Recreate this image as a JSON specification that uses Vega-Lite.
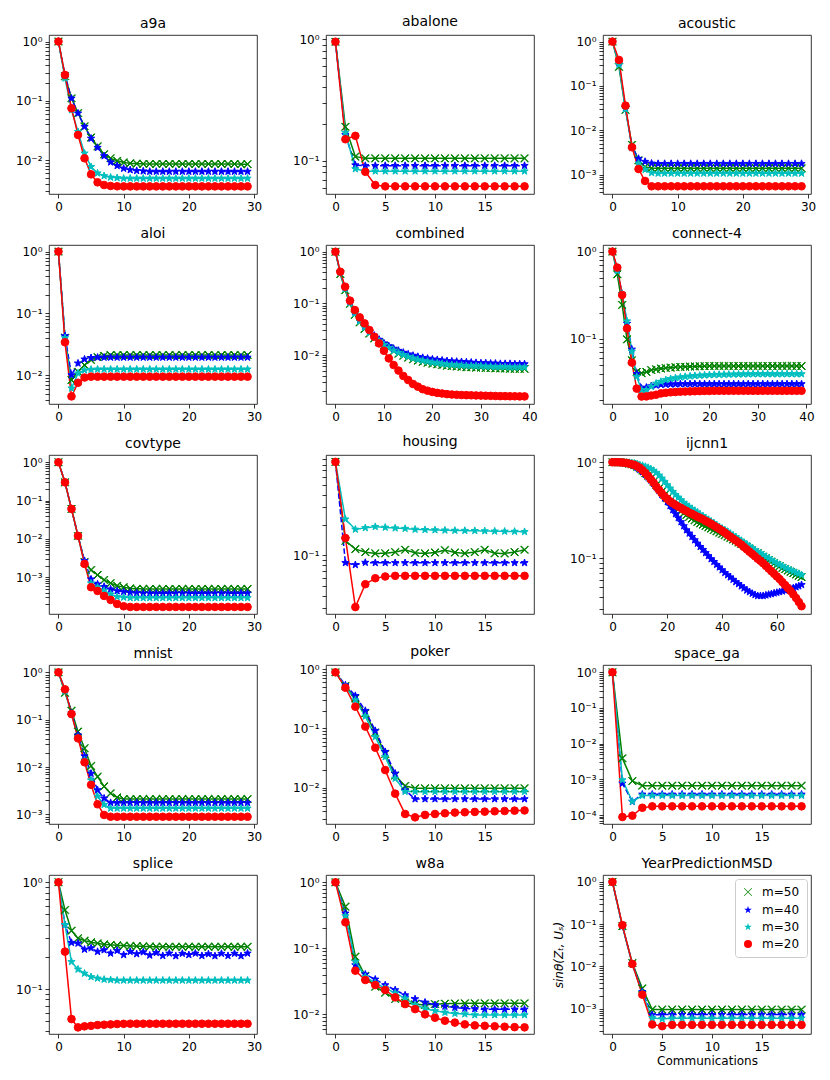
{
"$schema":"https://vega.github.io/schema/vega-lite/v6.json",
"background":"white",
"padding":{"left":15,"top":14,"right":5,"bottom":5},
"bounds":"flush",
"columns":3,
"spacing":{"row":51,"column":69},
"config":{
"font":"DejaVu Sans",
"view":{"stroke":"black","strokeWidth":0.8,"continuousWidth":208,"continuousHeight":159},
"axis":{"domain":false,"grid":false,"tickColor":"black","tickWidth":0.8,"tickSize":4,"labelColor":"black","labelFontSize":12,"labelPadding":3,"labelFont":"DejaVu Sans","titleFont":"DejaVu Sans","titleFontWeight":"normal","titleColor":"black","titleFontSize":12},
"axisY":{"labelOverlap":false,"labelExpr":"abs(log(datum.value)/LN10 - round(log(datum.value)/LN10)) > 0.01 ? '' : '10' + replace(replace(replace(replace(replace(replace('' + round(log(datum.value) / LN10), '-', '⁻'), '0', '⁰'), '1', '¹'), '2', '²'), '3', '³'), '4', '⁴')"},
"title":{"fontSize":14,"fontWeight":"normal","font":"DejaVu Sans","offset":4,"color":"black"},
"line":{"strokeWidth":1.5},
"point":{"filled":true,"size":58,"opacity":1,"strokeWidth":1},
"range":{"category":["#008000","#0000ff","#00bfbf","#ff0000"],"symbol":["M1.011,-0.898L0.113,0L1.011,0.898L0.898,1.011L0,0.113L-0.898,1.011L-1.011,0.898L-0.113,0L-1.011,-0.898L-0.898,-1.011L0,-0.113L0.898,-1.011Z","M0,-1L0.235,-0.324L0.951,-0.309L0.38,0.124L0.588,0.809L0,0.4L-0.588,0.809L-0.38,0.124L-0.951,-0.309L-0.235,-0.324Z","M0,-1L0.235,-0.324L0.951,-0.309L0.38,0.124L0.588,0.809L0,0.4L-0.588,0.809L-0.38,0.124L-0.951,-0.309L-0.235,-0.324Z","circle"]}
},
"resolve":{"scale":{"stroke":"independent","fill":"independent","shape":"independent","strokeDash":"independent"},"legend":{"stroke":"independent","fill":"independent","shape":"independent","strokeDash":"independent"}},
"datasets":{
"a9a":[
{"s":50,"x":0,"y":1},{"s":50,"x":1,"y":0.26},{"s":50,"x":2,"y":0.11},{"s":50,"x":3,"y":0.062},{"s":50,"x":4,"y":0.037},{"s":50,"x":5,"y":0.024},{"s":50,"x":6,"y":0.017},{"s":50,"x":7,"y":0.0125},{"s":50,"x":8,"y":0.0107},{"s":50,"x":9,"y":0.0097},{"s":50,"x":10,"y":0.0091},{"s":50,"x":11,"y":0.0088},{"s":50,"x":12,"y":0.0087},{"s":50,"x":13,"y":0.0086},{"s":50,"x":14,"y":0.0086},{"s":50,"x":15,"y":0.0086},{"s":50,"x":16,"y":0.0086},{"s":50,"x":17,"y":0.0086},{"s":50,"x":18,"y":0.0086},{"s":50,"x":19,"y":0.0086},{"s":50,"x":20,"y":0.0086},{"s":50,"x":21,"y":0.0086},{"s":50,"x":22,"y":0.0086},{"s":50,"x":23,"y":0.0086},{"s":50,"x":24,"y":0.0086},{"s":50,"x":25,"y":0.0086},{"s":50,"x":26,"y":0.0086},{"s":50,"x":27,"y":0.0086},{"s":50,"x":28,"y":0.0085},{"s":50,"x":29,"y":0.0085},
{"s":40,"x":0,"y":1},{"s":40,"x":1,"y":0.27},{"s":40,"x":2,"y":0.11},{"s":40,"x":3,"y":0.0615},{"s":40,"x":4,"y":0.0366},{"s":40,"x":5,"y":0.0232},{"s":40,"x":6,"y":0.0162},{"s":40,"x":7,"y":0.0117},{"s":40,"x":8,"y":0.0092},{"s":40,"x":9,"y":0.008},{"s":40,"x":10,"y":0.0072},{"s":40,"x":11,"y":0.0068},{"s":40,"x":12,"y":0.0066},{"s":40,"x":13,"y":0.0065},{"s":40,"x":14,"y":0.0064},{"s":40,"x":15,"y":0.0064},{"s":40,"x":16,"y":0.0064},{"s":40,"x":17,"y":0.0064},{"s":40,"x":18,"y":0.0064},{"s":40,"x":19,"y":0.0064},{"s":40,"x":20,"y":0.0064},{"s":40,"x":21,"y":0.0064},{"s":40,"x":22,"y":0.0064},{"s":40,"x":23,"y":0.0064},{"s":40,"x":24,"y":0.0064},{"s":40,"x":25,"y":0.0064},{"s":40,"x":26,"y":0.0064},{"s":40,"x":27,"y":0.0064},{"s":40,"x":28,"y":0.0064},{"s":40,"x":29,"y":0.0064},
{"s":30,"x":0,"y":1},{"s":30,"x":1,"y":0.24},{"s":30,"x":2,"y":0.07},{"s":30,"x":3,"y":0.03},{"s":30,"x":4,"y":0.013},{"s":30,"x":5,"y":0.0077},{"s":30,"x":6,"y":0.006},{"s":30,"x":7,"y":0.0054},{"s":30,"x":8,"y":0.0051},{"s":30,"x":9,"y":0.005},{"s":30,"x":10,"y":0.0049},{"s":30,"x":11,"y":0.0049},{"s":30,"x":12,"y":0.0049},{"s":30,"x":13,"y":0.0049},{"s":30,"x":14,"y":0.0049},{"s":30,"x":15,"y":0.0049},{"s":30,"x":16,"y":0.0049},{"s":30,"x":17,"y":0.0049},{"s":30,"x":18,"y":0.0049},{"s":30,"x":19,"y":0.0049},{"s":30,"x":20,"y":0.0049},{"s":30,"x":21,"y":0.0049},{"s":30,"x":22,"y":0.0049},{"s":30,"x":23,"y":0.0049},{"s":30,"x":24,"y":0.0049},{"s":30,"x":25,"y":0.0049},{"s":30,"x":26,"y":0.0049},{"s":30,"x":27,"y":0.0049},{"s":30,"x":28,"y":0.0049},{"s":30,"x":29,"y":0.0049},
{"s":20,"x":0,"y":1},{"s":20,"x":1,"y":0.273},{"s":20,"x":2,"y":0.0747},{"s":20,"x":3,"y":0.0265},{"s":20,"x":4,"y":0.0107},{"s":20,"x":5,"y":0.00573},{"s":20,"x":6,"y":0.0042},{"s":20,"x":7,"y":0.00378},{"s":20,"x":8,"y":0.00365},{"s":20,"x":9,"y":0.0036},{"s":20,"x":10,"y":0.00359},{"s":20,"x":11,"y":0.00359},{"s":20,"x":12,"y":0.00359},{"s":20,"x":13,"y":0.00359},{"s":20,"x":14,"y":0.00359},{"s":20,"x":15,"y":0.00359},{"s":20,"x":16,"y":0.00359},{"s":20,"x":17,"y":0.00359},{"s":20,"x":18,"y":0.00359},{"s":20,"x":19,"y":0.00359},{"s":20,"x":20,"y":0.00359},{"s":20,"x":21,"y":0.00359},{"s":20,"x":22,"y":0.00359},{"s":20,"x":23,"y":0.00359},{"s":20,"x":24,"y":0.00359},{"s":20,"x":25,"y":0.00359},{"s":20,"x":26,"y":0.00359},{"s":20,"x":27,"y":0.00359},{"s":20,"x":28,"y":0.00359},{"s":20,"x":29,"y":0.00359}
],
"abalone":[
{"s":50,"x":0,"y":0.95},{"s":50,"x":1,"y":0.19},{"s":50,"x":2,"y":0.108},{"s":50,"x":3,"y":0.1045},{"s":50,"x":4,"y":0.1045},{"s":50,"x":5,"y":0.1045},{"s":50,"x":6,"y":0.1045},{"s":50,"x":7,"y":0.1045},{"s":50,"x":8,"y":0.1045},{"s":50,"x":9,"y":0.1045},{"s":50,"x":10,"y":0.1045},{"s":50,"x":11,"y":0.1045},{"s":50,"x":12,"y":0.1045},{"s":50,"x":13,"y":0.1045},{"s":50,"x":14,"y":0.1045},{"s":50,"x":15,"y":0.1045},{"s":50,"x":16,"y":0.1045},{"s":50,"x":17,"y":0.1045},{"s":50,"x":18,"y":0.1045},{"s":50,"x":19,"y":0.1045},
{"s":40,"x":0,"y":0.95},{"s":40,"x":1,"y":0.163},{"s":40,"x":2,"y":0.092},{"s":40,"x":3,"y":0.091},{"s":40,"x":4,"y":0.091},{"s":40,"x":5,"y":0.091},{"s":40,"x":6,"y":0.091},{"s":40,"x":7,"y":0.091},{"s":40,"x":8,"y":0.091},{"s":40,"x":9,"y":0.091},{"s":40,"x":10,"y":0.091},{"s":40,"x":11,"y":0.091},{"s":40,"x":12,"y":0.091},{"s":40,"x":13,"y":0.091},{"s":40,"x":14,"y":0.091},{"s":40,"x":15,"y":0.091},{"s":40,"x":16,"y":0.091},{"s":40,"x":17,"y":0.091},{"s":40,"x":18,"y":0.091},{"s":40,"x":19,"y":0.091},
{"s":30,"x":0,"y":0.95},{"s":30,"x":1,"y":0.17},{"s":30,"x":2,"y":0.0855},{"s":30,"x":3,"y":0.082},{"s":30,"x":4,"y":0.082},{"s":30,"x":5,"y":0.082},{"s":30,"x":6,"y":0.082},{"s":30,"x":7,"y":0.082},{"s":30,"x":8,"y":0.082},{"s":30,"x":9,"y":0.082},{"s":30,"x":10,"y":0.082},{"s":30,"x":11,"y":0.082},{"s":30,"x":12,"y":0.082},{"s":30,"x":13,"y":0.082},{"s":30,"x":14,"y":0.082},{"s":30,"x":15,"y":0.082},{"s":30,"x":16,"y":0.082},{"s":30,"x":17,"y":0.082},{"s":30,"x":18,"y":0.082},{"s":30,"x":19,"y":0.082},
{"s":20,"x":0,"y":0.95},{"s":20,"x":1,"y":0.15},{"s":20,"x":2,"y":0.16},{"s":20,"x":3,"y":0.081},{"s":20,"x":4,"y":0.063},{"s":20,"x":5,"y":0.0615},{"s":20,"x":6,"y":0.0615},{"s":20,"x":7,"y":0.0615},{"s":20,"x":8,"y":0.0615},{"s":20,"x":9,"y":0.0615},{"s":20,"x":10,"y":0.0615},{"s":20,"x":11,"y":0.0615},{"s":20,"x":12,"y":0.0615},{"s":20,"x":13,"y":0.0615},{"s":20,"x":14,"y":0.0615},{"s":20,"x":15,"y":0.0615},{"s":20,"x":16,"y":0.0615},{"s":20,"x":17,"y":0.0615},{"s":20,"x":18,"y":0.0615},{"s":20,"x":19,"y":0.0615}
],
"acoustic":[
{"s":50,"x":0,"y":1},{"s":50,"x":1,"y":0.27},{"s":50,"x":2,"y":0.029},{"s":50,"x":3,"y":0.0047},{"s":50,"x":4,"y":0.0021},{"s":50,"x":5,"y":0.0015},{"s":50,"x":6,"y":0.0014},{"s":50,"x":7,"y":0.00139},{"s":50,"x":8,"y":0.00139},{"s":50,"x":9,"y":0.00139},{"s":50,"x":10,"y":0.00139},{"s":50,"x":11,"y":0.00139},{"s":50,"x":12,"y":0.00139},{"s":50,"x":13,"y":0.00139},{"s":50,"x":14,"y":0.00139},{"s":50,"x":15,"y":0.00139},{"s":50,"x":16,"y":0.00139},{"s":50,"x":17,"y":0.00139},{"s":50,"x":18,"y":0.00139},{"s":50,"x":19,"y":0.00139},{"s":50,"x":20,"y":0.00139},{"s":50,"x":21,"y":0.00139},{"s":50,"x":22,"y":0.00139},{"s":50,"x":23,"y":0.00139},{"s":50,"x":24,"y":0.00139},{"s":50,"x":25,"y":0.00139},{"s":50,"x":26,"y":0.00139},{"s":50,"x":27,"y":0.00139},{"s":50,"x":28,"y":0.00139},{"s":50,"x":29,"y":0.00139},
{"s":40,"x":0,"y":1},{"s":40,"x":1,"y":0.33},{"s":40,"x":2,"y":0.032},{"s":40,"x":3,"y":0.0042},{"s":40,"x":4,"y":0.0023},{"s":40,"x":5,"y":0.00197},{"s":40,"x":6,"y":0.0018},{"s":40,"x":7,"y":0.00177},{"s":40,"x":8,"y":0.00177},{"s":40,"x":9,"y":0.00177},{"s":40,"x":10,"y":0.00177},{"s":40,"x":11,"y":0.00177},{"s":40,"x":12,"y":0.00177},{"s":40,"x":13,"y":0.00177},{"s":40,"x":14,"y":0.00177},{"s":40,"x":15,"y":0.00177},{"s":40,"x":16,"y":0.00177},{"s":40,"x":17,"y":0.00177},{"s":40,"x":18,"y":0.00177},{"s":40,"x":19,"y":0.00177},{"s":40,"x":20,"y":0.00177},{"s":40,"x":21,"y":0.00177},{"s":40,"x":22,"y":0.00177},{"s":40,"x":23,"y":0.00177},{"s":40,"x":24,"y":0.00177},{"s":40,"x":25,"y":0.00177},{"s":40,"x":26,"y":0.00177},{"s":40,"x":27,"y":0.00177},{"s":40,"x":28,"y":0.00177},{"s":40,"x":29,"y":0.00177},
{"s":30,"x":0,"y":1},{"s":30,"x":1,"y":0.3},{"s":30,"x":2,"y":0.03},{"s":30,"x":3,"y":0.004},{"s":30,"x":4,"y":0.0018},{"s":30,"x":5,"y":0.0013},{"s":30,"x":6,"y":0.0011},{"s":30,"x":7,"y":0.00107},{"s":30,"x":8,"y":0.00107},{"s":30,"x":9,"y":0.00107},{"s":30,"x":10,"y":0.00107},{"s":30,"x":11,"y":0.00107},{"s":30,"x":12,"y":0.00107},{"s":30,"x":13,"y":0.00107},{"s":30,"x":14,"y":0.00107},{"s":30,"x":15,"y":0.00107},{"s":30,"x":16,"y":0.00107},{"s":30,"x":17,"y":0.00107},{"s":30,"x":18,"y":0.00107},{"s":30,"x":19,"y":0.00107},{"s":30,"x":20,"y":0.00107},{"s":30,"x":21,"y":0.00107},{"s":30,"x":22,"y":0.00107},{"s":30,"x":23,"y":0.00107},{"s":30,"x":24,"y":0.00107},{"s":30,"x":25,"y":0.00107},{"s":30,"x":26,"y":0.00107},{"s":30,"x":27,"y":0.00107},{"s":30,"x":28,"y":0.00107},{"s":30,"x":29,"y":0.00107},
{"s":20,"x":0,"y":1},{"s":20,"x":1,"y":0.386},{"s":20,"x":2,"y":0.036},{"s":20,"x":3,"y":0.00414},{"s":20,"x":4,"y":0.00134},{"s":20,"x":5,"y":0.00072},{"s":20,"x":6,"y":0.000546},{"s":20,"x":7,"y":0.000546},{"s":20,"x":8,"y":0.000546},{"s":20,"x":9,"y":0.000546},{"s":20,"x":10,"y":0.000546},{"s":20,"x":11,"y":0.000546},{"s":20,"x":12,"y":0.000546},{"s":20,"x":13,"y":0.000546},{"s":20,"x":14,"y":0.000546},{"s":20,"x":15,"y":0.000546},{"s":20,"x":16,"y":0.000546},{"s":20,"x":17,"y":0.000546},{"s":20,"x":18,"y":0.000546},{"s":20,"x":19,"y":0.000546},{"s":20,"x":20,"y":0.000546},{"s":20,"x":21,"y":0.000546},{"s":20,"x":22,"y":0.000546},{"s":20,"x":23,"y":0.000546},{"s":20,"x":24,"y":0.000546},{"s":20,"x":25,"y":0.000546},{"s":20,"x":26,"y":0.000546},{"s":20,"x":27,"y":0.000546},{"s":20,"x":28,"y":0.000546},{"s":20,"x":29,"y":0.000546}
],
"aloi":[
{"s":50,"x":0,"y":1},{"s":50,"x":1,"y":0.04},{"s":50,"x":2,"y":0.0083},{"s":50,"x":3,"y":0.0113},{"s":50,"x":4,"y":0.0145},{"s":50,"x":5,"y":0.0175},{"s":50,"x":6,"y":0.0195},{"s":50,"x":7,"y":0.0205},{"s":50,"x":8,"y":0.0211},{"s":50,"x":9,"y":0.0211},{"s":50,"x":10,"y":0.0211},{"s":50,"x":11,"y":0.0211},{"s":50,"x":12,"y":0.0211},{"s":50,"x":13,"y":0.0211},{"s":50,"x":14,"y":0.0211},{"s":50,"x":15,"y":0.0211},{"s":50,"x":16,"y":0.0211},{"s":50,"x":17,"y":0.0211},{"s":50,"x":18,"y":0.0211},{"s":50,"x":19,"y":0.0211},{"s":50,"x":20,"y":0.0211},{"s":50,"x":21,"y":0.0211},{"s":50,"x":22,"y":0.0211},{"s":50,"x":23,"y":0.0211},{"s":50,"x":24,"y":0.0211},{"s":50,"x":25,"y":0.0211},{"s":50,"x":26,"y":0.0211},{"s":50,"x":27,"y":0.0211},{"s":50,"x":28,"y":0.0211},{"s":50,"x":29,"y":0.0211},
{"s":40,"x":0,"y":1},{"s":40,"x":1,"y":0.0429},{"s":40,"x":2,"y":0.01},{"s":40,"x":3,"y":0.0155},{"s":40,"x":4,"y":0.018},{"s":40,"x":5,"y":0.019},{"s":40,"x":6,"y":0.0193},{"s":40,"x":7,"y":0.0193},{"s":40,"x":8,"y":0.0193},{"s":40,"x":9,"y":0.0193},{"s":40,"x":10,"y":0.0193},{"s":40,"x":11,"y":0.0193},{"s":40,"x":12,"y":0.0193},{"s":40,"x":13,"y":0.0193},{"s":40,"x":14,"y":0.0193},{"s":40,"x":15,"y":0.0193},{"s":40,"x":16,"y":0.0193},{"s":40,"x":17,"y":0.0193},{"s":40,"x":18,"y":0.0193},{"s":40,"x":19,"y":0.0193},{"s":40,"x":20,"y":0.0193},{"s":40,"x":21,"y":0.0193},{"s":40,"x":22,"y":0.0193},{"s":40,"x":23,"y":0.0193},{"s":40,"x":24,"y":0.0193},{"s":40,"x":25,"y":0.0193},{"s":40,"x":26,"y":0.0193},{"s":40,"x":27,"y":0.0193},{"s":40,"x":28,"y":0.0193},{"s":40,"x":29,"y":0.0193},
{"s":30,"x":0,"y":1},{"s":30,"x":1,"y":0.04},{"s":30,"x":2,"y":0.0061},{"s":30,"x":3,"y":0.0107},{"s":30,"x":4,"y":0.012},{"s":30,"x":5,"y":0.0123},{"s":30,"x":6,"y":0.0124},{"s":30,"x":7,"y":0.0124},{"s":30,"x":8,"y":0.0124},{"s":30,"x":9,"y":0.0124},{"s":30,"x":10,"y":0.0124},{"s":30,"x":11,"y":0.0124},{"s":30,"x":12,"y":0.0124},{"s":30,"x":13,"y":0.0124},{"s":30,"x":14,"y":0.0124},{"s":30,"x":15,"y":0.0124},{"s":30,"x":16,"y":0.0124},{"s":30,"x":17,"y":0.0124},{"s":30,"x":18,"y":0.0124},{"s":30,"x":19,"y":0.0124},{"s":30,"x":20,"y":0.0124},{"s":30,"x":21,"y":0.0124},{"s":30,"x":22,"y":0.0124},{"s":30,"x":23,"y":0.0124},{"s":30,"x":24,"y":0.0124},{"s":30,"x":25,"y":0.0124},{"s":30,"x":26,"y":0.0124},{"s":30,"x":27,"y":0.0124},{"s":30,"x":28,"y":0.0124},{"s":30,"x":29,"y":0.0124},
{"s":20,"x":0,"y":1},{"s":20,"x":1,"y":0.0339},{"s":20,"x":2,"y":0.0045},{"s":20,"x":3,"y":0.0075},{"s":20,"x":4,"y":0.0091},{"s":20,"x":5,"y":0.0094},{"s":20,"x":6,"y":0.0094},{"s":20,"x":7,"y":0.0094},{"s":20,"x":8,"y":0.0094},{"s":20,"x":9,"y":0.0094},{"s":20,"x":10,"y":0.0094},{"s":20,"x":11,"y":0.0094},{"s":20,"x":12,"y":0.0094},{"s":20,"x":13,"y":0.0094},{"s":20,"x":14,"y":0.0094},{"s":20,"x":15,"y":0.0094},{"s":20,"x":16,"y":0.0094},{"s":20,"x":17,"y":0.0094},{"s":20,"x":18,"y":0.0094},{"s":20,"x":19,"y":0.0094},{"s":20,"x":20,"y":0.0094},{"s":20,"x":21,"y":0.0094},{"s":20,"x":22,"y":0.0094},{"s":20,"x":23,"y":0.0094},{"s":20,"x":24,"y":0.0094},{"s":20,"x":25,"y":0.0094},{"s":20,"x":26,"y":0.0094},{"s":20,"x":27,"y":0.0094},{"s":20,"x":28,"y":0.0094},{"s":20,"x":29,"y":0.0094}
],
"combined":[
{"s":50,"x":0,"y":1},{"s":50,"x":1,"y":0.37},{"s":50,"x":2,"y":0.18},{"s":50,"x":3,"y":0.098},{"s":50,"x":4,"y":0.06},{"s":50,"x":5,"y":0.043},{"s":50,"x":6,"y":0.032},{"s":50,"x":7,"y":0.026},{"s":50,"x":8,"y":0.021},{"s":50,"x":9,"y":0.0178},{"s":50,"x":10,"y":0.0152},{"s":50,"x":11,"y":0.0133},{"s":50,"x":12,"y":0.0118},{"s":50,"x":13,"y":0.0106},{"s":50,"x":14,"y":0.0097},{"s":50,"x":15,"y":0.0089},{"s":50,"x":16,"y":0.0083},{"s":50,"x":17,"y":0.0078},{"s":50,"x":18,"y":0.0074},{"s":50,"x":19,"y":0.0071},{"s":50,"x":20,"y":0.0068},{"s":50,"x":21,"y":0.0066},{"s":50,"x":22,"y":0.0064},{"s":50,"x":23,"y":0.0062},{"s":50,"x":24,"y":0.0061},{"s":50,"x":25,"y":0.006},{"s":50,"x":26,"y":0.0059},{"s":50,"x":27,"y":0.0058},{"s":50,"x":28,"y":0.0058},{"s":50,"x":29,"y":0.0057},{"s":50,"x":30,"y":0.0057},{"s":50,"x":31,"y":0.0056},{"s":50,"x":32,"y":0.0056},{"s":50,"x":33,"y":0.0055},{"s":50,"x":34,"y":0.0055},{"s":50,"x":35,"y":0.0055},{"s":50,"x":36,"y":0.0054},{"s":50,"x":37,"y":0.0054},{"s":50,"x":38,"y":0.0054},{"s":50,"x":39,"y":0.0054},
{"s":40,"x":0,"y":1},{"s":40,"x":1,"y":0.4},{"s":40,"x":2,"y":0.2},{"s":40,"x":3,"y":0.108},{"s":40,"x":4,"y":0.068},{"s":40,"x":5,"y":0.048},{"s":40,"x":6,"y":0.036},{"s":40,"x":7,"y":0.029},{"s":40,"x":8,"y":0.024},{"s":40,"x":9,"y":0.02},{"s":40,"x":10,"y":0.017},{"s":40,"x":11,"y":0.015},{"s":40,"x":12,"y":0.0134},{"s":40,"x":13,"y":0.0122},{"s":40,"x":14,"y":0.0112},{"s":40,"x":15,"y":0.0104},{"s":40,"x":16,"y":0.0098},{"s":40,"x":17,"y":0.0093},{"s":40,"x":18,"y":0.0089},{"s":40,"x":19,"y":0.0086},{"s":40,"x":20,"y":0.0083},{"s":40,"x":21,"y":0.0081},{"s":40,"x":22,"y":0.0079},{"s":40,"x":23,"y":0.0077},{"s":40,"x":24,"y":0.0076},{"s":40,"x":25,"y":0.0075},{"s":40,"x":26,"y":0.0074},{"s":40,"x":27,"y":0.0073},{"s":40,"x":28,"y":0.0072},{"s":40,"x":29,"y":0.0071},{"s":40,"x":30,"y":0.007},{"s":40,"x":31,"y":0.007},{"s":40,"x":32,"y":0.0069},{"s":40,"x":33,"y":0.0069},{"s":40,"x":34,"y":0.0068},{"s":40,"x":35,"y":0.0068},{"s":40,"x":36,"y":0.0068},{"s":40,"x":37,"y":0.0067},{"s":40,"x":38,"y":0.0067},{"s":40,"x":39,"y":0.0067},
{"s":30,"x":0,"y":1},{"s":30,"x":1,"y":0.39},{"s":30,"x":2,"y":0.19},{"s":30,"x":3,"y":0.102},{"s":30,"x":4,"y":0.063},{"s":30,"x":5,"y":0.045},{"s":30,"x":6,"y":0.034},{"s":30,"x":7,"y":0.027},{"s":30,"x":8,"y":0.022},{"s":30,"x":9,"y":0.0185},{"s":30,"x":10,"y":0.0158},{"s":30,"x":11,"y":0.0138},{"s":30,"x":12,"y":0.0123},{"s":30,"x":13,"y":0.0111},{"s":30,"x":14,"y":0.0101},{"s":30,"x":15,"y":0.0093},{"s":30,"x":16,"y":0.0087},{"s":30,"x":17,"y":0.0082},{"s":30,"x":18,"y":0.0078},{"s":30,"x":19,"y":0.0075},{"s":30,"x":20,"y":0.0072},{"s":30,"x":21,"y":0.007},{"s":30,"x":22,"y":0.0068},{"s":30,"x":23,"y":0.0066},{"s":30,"x":24,"y":0.0065},{"s":30,"x":25,"y":0.0064},{"s":30,"x":26,"y":0.0063},{"s":30,"x":27,"y":0.0062},{"s":30,"x":28,"y":0.0062},{"s":30,"x":29,"y":0.0061},{"s":30,"x":30,"y":0.0061},{"s":30,"x":31,"y":0.006},{"s":30,"x":32,"y":0.006},{"s":30,"x":33,"y":0.0059},{"s":30,"x":34,"y":0.0059},{"s":30,"x":35,"y":0.0059},{"s":30,"x":36,"y":0.0058},{"s":30,"x":37,"y":0.0058},{"s":30,"x":38,"y":0.0058},{"s":30,"x":39,"y":0.0058},
{"s":20,"x":0,"y":1},{"s":20,"x":1,"y":0.41},{"s":20,"x":2,"y":0.21},{"s":20,"x":3,"y":0.113},{"s":20,"x":4,"y":0.0743},{"s":20,"x":5,"y":0.0536},{"s":20,"x":6,"y":0.041},{"s":20,"x":7,"y":0.0305},{"s":20,"x":8,"y":0.0226},{"s":20,"x":9,"y":0.0168},{"s":20,"x":10,"y":0.0121},{"s":20,"x":11,"y":0.0086},{"s":20,"x":12,"y":0.0064},{"s":20,"x":13,"y":0.005},{"s":20,"x":14,"y":0.00393},{"s":20,"x":15,"y":0.00328},{"s":20,"x":16,"y":0.00275},{"s":20,"x":17,"y":0.00244},{"s":20,"x":18,"y":0.00218},{"s":20,"x":19,"y":0.00204},{"s":20,"x":20,"y":0.00193},{"s":20,"x":21,"y":0.00185},{"s":20,"x":22,"y":0.0018},{"s":20,"x":23,"y":0.00175},{"s":20,"x":24,"y":0.00172},{"s":20,"x":25,"y":0.0017},{"s":20,"x":26,"y":0.00168},{"s":20,"x":27,"y":0.00167},{"s":20,"x":28,"y":0.00166},{"s":20,"x":29,"y":0.00165},{"s":20,"x":30,"y":0.00164},{"s":20,"x":31,"y":0.00163},{"s":20,"x":32,"y":0.00162},{"s":20,"x":33,"y":0.00161},{"s":20,"x":34,"y":0.0016},{"s":20,"x":35,"y":0.0016},{"s":20,"x":36,"y":0.00159},{"s":20,"x":37,"y":0.00159},{"s":20,"x":38,"y":0.00158},{"s":20,"x":39,"y":0.00158}
],
"connect4":[
{"s":50,"x":0,"y":1},{"s":50,"x":1,"y":0.55},{"s":50,"x":2,"y":0.245},{"s":50,"x":3,"y":0.099},{"s":50,"x":4,"y":0.057},{"s":50,"x":5,"y":0.042},{"s":50,"x":6,"y":0.0405},{"s":50,"x":7,"y":0.042},{"s":50,"x":8,"y":0.044},{"s":50,"x":9,"y":0.045},{"s":50,"x":10,"y":0.0458},{"s":50,"x":11,"y":0.0465},{"s":50,"x":12,"y":0.047},{"s":50,"x":13,"y":0.0475},{"s":50,"x":14,"y":0.0478},{"s":50,"x":15,"y":0.048},{"s":50,"x":16,"y":0.0483},{"s":50,"x":17,"y":0.0485},{"s":50,"x":18,"y":0.0487},{"s":50,"x":19,"y":0.0488},{"s":50,"x":20,"y":0.049},{"s":50,"x":21,"y":0.049},{"s":50,"x":22,"y":0.049},{"s":50,"x":23,"y":0.049},{"s":50,"x":24,"y":0.049},{"s":50,"x":25,"y":0.049},{"s":50,"x":26,"y":0.049},{"s":50,"x":27,"y":0.049},{"s":50,"x":28,"y":0.049},{"s":50,"x":29,"y":0.049},{"s":50,"x":30,"y":0.049},{"s":50,"x":31,"y":0.049},{"s":50,"x":32,"y":0.049},{"s":50,"x":33,"y":0.049},{"s":50,"x":34,"y":0.049},{"s":50,"x":35,"y":0.049},{"s":50,"x":36,"y":0.049},{"s":50,"x":37,"y":0.049},{"s":50,"x":38,"y":0.049},{"s":50,"x":39,"y":0.049},
{"s":40,"x":0,"y":1},{"s":40,"x":1,"y":0.62},{"s":40,"x":2,"y":0.33},{"s":40,"x":3,"y":0.15},{"s":40,"x":4,"y":0.076},{"s":40,"x":5,"y":0.04},{"s":40,"x":6,"y":0.0272},{"s":40,"x":7,"y":0.0279},{"s":40,"x":8,"y":0.0289},{"s":40,"x":9,"y":0.0295},{"s":40,"x":10,"y":0.03},{"s":40,"x":11,"y":0.0302},{"s":40,"x":12,"y":0.0303},{"s":40,"x":13,"y":0.0304},{"s":40,"x":14,"y":0.0305},{"s":40,"x":15,"y":0.0305},{"s":40,"x":16,"y":0.0305},{"s":40,"x":17,"y":0.0305},{"s":40,"x":18,"y":0.0305},{"s":40,"x":19,"y":0.0305},{"s":40,"x":20,"y":0.0305},{"s":40,"x":21,"y":0.0305},{"s":40,"x":22,"y":0.0305},{"s":40,"x":23,"y":0.0305},{"s":40,"x":24,"y":0.0305},{"s":40,"x":25,"y":0.0305},{"s":40,"x":26,"y":0.0305},{"s":40,"x":27,"y":0.0305},{"s":40,"x":28,"y":0.0305},{"s":40,"x":29,"y":0.0305},{"s":40,"x":30,"y":0.0305},{"s":40,"x":31,"y":0.0305},{"s":40,"x":32,"y":0.0305},{"s":40,"x":33,"y":0.0305},{"s":40,"x":34,"y":0.0305},{"s":40,"x":35,"y":0.0305},{"s":40,"x":36,"y":0.0305},{"s":40,"x":37,"y":0.0305},{"s":40,"x":38,"y":0.0305},{"s":40,"x":39,"y":0.0305},
{"s":30,"x":0,"y":1},{"s":30,"x":1,"y":0.6},{"s":30,"x":2,"y":0.33},{"s":30,"x":3,"y":0.16},{"s":30,"x":4,"y":0.072},{"s":30,"x":5,"y":0.037},{"s":30,"x":6,"y":0.026},{"s":30,"x":7,"y":0.026},{"s":30,"x":8,"y":0.0285},{"s":30,"x":9,"y":0.031},{"s":30,"x":10,"y":0.0325},{"s":30,"x":11,"y":0.034},{"s":30,"x":12,"y":0.035},{"s":30,"x":13,"y":0.0358},{"s":30,"x":14,"y":0.0365},{"s":30,"x":15,"y":0.037},{"s":30,"x":16,"y":0.0375},{"s":30,"x":17,"y":0.0379},{"s":30,"x":18,"y":0.0382},{"s":30,"x":19,"y":0.0385},{"s":30,"x":20,"y":0.0388},{"s":30,"x":21,"y":0.039},{"s":30,"x":22,"y":0.0391},{"s":30,"x":23,"y":0.0392},{"s":30,"x":24,"y":0.0393},{"s":30,"x":25,"y":0.0394},{"s":30,"x":26,"y":0.0395},{"s":30,"x":27,"y":0.0396},{"s":30,"x":28,"y":0.0396},{"s":30,"x":29,"y":0.0397},{"s":30,"x":30,"y":0.0397},{"s":30,"x":31,"y":0.0397},{"s":30,"x":32,"y":0.0397},{"s":30,"x":33,"y":0.0397},{"s":30,"x":34,"y":0.0397},{"s":30,"x":35,"y":0.0397},{"s":30,"x":36,"y":0.0397},{"s":30,"x":37,"y":0.0397},{"s":30,"x":38,"y":0.0397},{"s":30,"x":39,"y":0.0397},
{"s":20,"x":0,"y":1},{"s":20,"x":1,"y":0.656},{"s":20,"x":2,"y":0.319},{"s":20,"x":3,"y":0.132},{"s":20,"x":4,"y":0.0536},{"s":20,"x":5,"y":0.027},{"s":20,"x":6,"y":0.0219},{"s":20,"x":7,"y":0.022},{"s":20,"x":8,"y":0.0225},{"s":20,"x":9,"y":0.023},{"s":20,"x":10,"y":0.0238},{"s":20,"x":11,"y":0.0242},{"s":20,"x":12,"y":0.0245},{"s":20,"x":13,"y":0.0247},{"s":20,"x":14,"y":0.0249},{"s":20,"x":15,"y":0.025},{"s":20,"x":16,"y":0.0251},{"s":20,"x":17,"y":0.0252},{"s":20,"x":18,"y":0.0253},{"s":20,"x":19,"y":0.0254},{"s":20,"x":20,"y":0.0254},{"s":20,"x":21,"y":0.0255},{"s":20,"x":22,"y":0.0255},{"s":20,"x":23,"y":0.0255},{"s":20,"x":24,"y":0.0255},{"s":20,"x":25,"y":0.0255},{"s":20,"x":26,"y":0.0255},{"s":20,"x":27,"y":0.0255},{"s":20,"x":28,"y":0.0255},{"s":20,"x":29,"y":0.0255},{"s":20,"x":30,"y":0.0255},{"s":20,"x":31,"y":0.0255},{"s":20,"x":32,"y":0.0255},{"s":20,"x":33,"y":0.0255},{"s":20,"x":34,"y":0.0255},{"s":20,"x":35,"y":0.0255},{"s":20,"x":36,"y":0.0255},{"s":20,"x":37,"y":0.0255},{"s":20,"x":38,"y":0.0255},{"s":20,"x":39,"y":0.0255}
],
"covtype":[
{"s":50,"x":0,"y":1},{"s":50,"x":1,"y":0.3},{"s":50,"x":2,"y":0.0607},{"s":50,"x":3,"y":0.012},{"s":50,"x":4,"y":0.0025},{"s":50,"x":5,"y":0.00155},{"s":50,"x":6,"y":0.00115},{"s":50,"x":7,"y":0.00085},{"s":50,"x":8,"y":0.0007},{"s":50,"x":9,"y":0.0006},{"s":50,"x":10,"y":0.00055},{"s":50,"x":11,"y":0.00051},{"s":50,"x":12,"y":0.0005},{"s":50,"x":13,"y":0.000497},{"s":50,"x":14,"y":0.000497},{"s":50,"x":15,"y":0.000497},{"s":50,"x":16,"y":0.000497},{"s":50,"x":17,"y":0.000497},{"s":50,"x":18,"y":0.000497},{"s":50,"x":19,"y":0.000497},{"s":50,"x":20,"y":0.000497},{"s":50,"x":21,"y":0.000497},{"s":50,"x":22,"y":0.000497},{"s":50,"x":23,"y":0.000497},{"s":50,"x":24,"y":0.000497},{"s":50,"x":25,"y":0.000497},{"s":50,"x":26,"y":0.000497},{"s":50,"x":27,"y":0.000497},{"s":50,"x":28,"y":0.000497},{"s":50,"x":29,"y":0.000497},
{"s":40,"x":0,"y":1},{"s":40,"x":1,"y":0.3},{"s":40,"x":2,"y":0.0607},{"s":40,"x":3,"y":0.012},{"s":40,"x":4,"y":0.0027},{"s":40,"x":5,"y":0.00089},{"s":40,"x":6,"y":0.00066},{"s":40,"x":7,"y":0.00057},{"s":40,"x":8,"y":0.00049},{"s":40,"x":9,"y":0.00044},{"s":40,"x":10,"y":0.00042},{"s":40,"x":11,"y":0.0004},{"s":40,"x":12,"y":0.00039},{"s":40,"x":13,"y":0.000383},{"s":40,"x":14,"y":0.000383},{"s":40,"x":15,"y":0.000383},{"s":40,"x":16,"y":0.000383},{"s":40,"x":17,"y":0.000383},{"s":40,"x":18,"y":0.000383},{"s":40,"x":19,"y":0.000383},{"s":40,"x":20,"y":0.000383},{"s":40,"x":21,"y":0.000383},{"s":40,"x":22,"y":0.000383},{"s":40,"x":23,"y":0.000383},{"s":40,"x":24,"y":0.000383},{"s":40,"x":25,"y":0.000383},{"s":40,"x":26,"y":0.000383},{"s":40,"x":27,"y":0.000383},{"s":40,"x":28,"y":0.000383},{"s":40,"x":29,"y":0.000383},
{"s":30,"x":0,"y":1},{"s":30,"x":1,"y":0.3},{"s":30,"x":2,"y":0.0607},{"s":30,"x":3,"y":0.012},{"s":30,"x":4,"y":0.0023},{"s":30,"x":5,"y":0.0007},{"s":30,"x":6,"y":0.00055},{"s":30,"x":7,"y":0.00045},{"s":30,"x":8,"y":0.00036},{"s":30,"x":9,"y":0.00031},{"s":30,"x":10,"y":0.0003},{"s":30,"x":11,"y":0.00029},{"s":30,"x":12,"y":0.00029},{"s":30,"x":13,"y":0.00029},{"s":30,"x":14,"y":0.00029},{"s":30,"x":15,"y":0.00029},{"s":30,"x":16,"y":0.00029},{"s":30,"x":17,"y":0.00029},{"s":30,"x":18,"y":0.00029},{"s":30,"x":19,"y":0.00029},{"s":30,"x":20,"y":0.00029},{"s":30,"x":21,"y":0.00029},{"s":30,"x":22,"y":0.00029},{"s":30,"x":23,"y":0.00029},{"s":30,"x":24,"y":0.00029},{"s":30,"x":25,"y":0.00029},{"s":30,"x":26,"y":0.00029},{"s":30,"x":27,"y":0.00029},{"s":30,"x":28,"y":0.00029},{"s":30,"x":29,"y":0.00029},
{"s":20,"x":0,"y":1},{"s":20,"x":1,"y":0.3},{"s":20,"x":2,"y":0.0607},{"s":20,"x":3,"y":0.012},{"s":20,"x":4,"y":0.00223},{"s":20,"x":5,"y":0.00055},{"s":20,"x":6,"y":0.00044},{"s":20,"x":7,"y":0.000326},{"s":20,"x":8,"y":0.000257},{"s":20,"x":9,"y":0.000201},{"s":20,"x":10,"y":0.000175},{"s":20,"x":11,"y":0.000168},{"s":20,"x":12,"y":0.000168},{"s":20,"x":13,"y":0.000168},{"s":20,"x":14,"y":0.000168},{"s":20,"x":15,"y":0.000168},{"s":20,"x":16,"y":0.000168},{"s":20,"x":17,"y":0.000168},{"s":20,"x":18,"y":0.000168},{"s":20,"x":19,"y":0.000168},{"s":20,"x":20,"y":0.000168},{"s":20,"x":21,"y":0.000168},{"s":20,"x":22,"y":0.000168},{"s":20,"x":23,"y":0.000168},{"s":20,"x":24,"y":0.000168},{"s":20,"x":25,"y":0.000168},{"s":20,"x":26,"y":0.000168},{"s":20,"x":27,"y":0.000168},{"s":20,"x":28,"y":0.000168},{"s":20,"x":29,"y":0.000168}
],
"housing":[
{"s":50,"x":0,"y":0.85},{"s":50,"x":1,"y":0.14},{"s":50,"x":2,"y":0.1157},{"s":50,"x":3,"y":0.1079},{"s":50,"x":4,"y":0.1047},{"s":50,"x":5,"y":0.105},{"s":50,"x":6,"y":0.1079},{"s":50,"x":7,"y":0.1139},{"s":50,"x":8,"y":0.106},{"s":50,"x":9,"y":0.1047},{"s":50,"x":10,"y":0.107},{"s":50,"x":11,"y":0.113},{"s":50,"x":12,"y":0.107},{"s":50,"x":13,"y":0.105},{"s":50,"x":14,"y":0.108},{"s":50,"x":15,"y":0.1139},{"s":50,"x":16,"y":0.105},{"s":50,"x":17,"y":0.1047},{"s":50,"x":18,"y":0.108},{"s":50,"x":19,"y":0.1139},
{"s":40,"x":0,"y":0.85},{"s":40,"x":1,"y":0.0845},{"s":40,"x":2,"y":0.0807},{"s":40,"x":3,"y":0.085},{"s":40,"x":4,"y":0.0845},{"s":40,"x":5,"y":0.0845},{"s":40,"x":6,"y":0.0845},{"s":40,"x":7,"y":0.0845},{"s":40,"x":8,"y":0.0845},{"s":40,"x":9,"y":0.0845},{"s":40,"x":10,"y":0.0845},{"s":40,"x":11,"y":0.0845},{"s":40,"x":12,"y":0.0845},{"s":40,"x":13,"y":0.0845},{"s":40,"x":14,"y":0.0845},{"s":40,"x":15,"y":0.0845},{"s":40,"x":16,"y":0.0845},{"s":40,"x":17,"y":0.0845},{"s":40,"x":18,"y":0.0845},{"s":40,"x":19,"y":0.0845},
{"s":30,"x":0,"y":0.85},{"s":30,"x":1,"y":0.229},{"s":30,"x":2,"y":0.1815},{"s":30,"x":3,"y":0.188},{"s":30,"x":4,"y":0.193},{"s":30,"x":5,"y":0.19},{"s":30,"x":6,"y":0.187},{"s":30,"x":7,"y":0.185},{"s":30,"x":8,"y":0.1815},{"s":30,"x":9,"y":0.18},{"s":30,"x":10,"y":0.179},{"s":30,"x":11,"y":0.178},{"s":30,"x":12,"y":0.177},{"s":30,"x":13,"y":0.1765},{"s":30,"x":14,"y":0.176},{"s":30,"x":15,"y":0.175},{"s":30,"x":16,"y":0.174},{"s":30,"x":17,"y":0.1735},{"s":30,"x":18,"y":0.173},{"s":30,"x":19,"y":0.172},
{"s":20,"x":0,"y":0.85},{"s":20,"x":1,"y":0.149},{"s":20,"x":2,"y":0.0307},{"s":20,"x":3,"y":0.0518},{"s":20,"x":4,"y":0.0594},{"s":20,"x":5,"y":0.0618},{"s":20,"x":6,"y":0.0627},{"s":20,"x":7,"y":0.0627},{"s":20,"x":8,"y":0.0627},{"s":20,"x":9,"y":0.0627},{"s":20,"x":10,"y":0.0627},{"s":20,"x":11,"y":0.0627},{"s":20,"x":12,"y":0.0627},{"s":20,"x":13,"y":0.0627},{"s":20,"x":14,"y":0.0627},{"s":20,"x":15,"y":0.0627},{"s":20,"x":16,"y":0.0627},{"s":20,"x":17,"y":0.0627},{"s":20,"x":18,"y":0.0627},{"s":20,"x":19,"y":0.0627}
],
"ijcnn1":[
{"s":50,"x":0,"y":1},{"s":50,"x":1,"y":1},{"s":50,"x":2,"y":1},{"s":50,"x":3,"y":0.996},{"s":50,"x":4,"y":0.992},{"s":50,"x":5,"y":0.984},{"s":50,"x":6,"y":0.968},{"s":50,"x":7,"y":0.953},{"s":50,"x":8,"y":0.931},{"s":50,"x":9,"y":0.901},{"s":50,"x":10,"y":0.866},{"s":50,"x":11,"y":0.819},{"s":50,"x":12,"y":0.768},{"s":50,"x":13,"y":0.726},{"s":50,"x":14,"y":0.681},{"s":50,"x":15,"y":0.629},{"s":50,"x":16,"y":0.58},{"s":50,"x":17,"y":0.536},{"s":50,"x":18,"y":0.495},{"s":50,"x":19,"y":0.457},{"s":50,"x":20,"y":0.422},{"s":50,"x":21,"y":0.392},{"s":50,"x":22,"y":0.365},{"s":50,"x":23,"y":0.343},{"s":50,"x":24,"y":0.324},{"s":50,"x":25,"y":0.309},{"s":50,"x":26,"y":0.294},{"s":50,"x":27,"y":0.283},{"s":50,"x":28,"y":0.27},{"s":50,"x":29,"y":0.259},{"s":50,"x":30,"y":0.249},{"s":50,"x":31,"y":0.239},{"s":50,"x":32,"y":0.231},{"s":50,"x":33,"y":0.224},{"s":50,"x":34,"y":0.217},{"s":50,"x":35,"y":0.21},{"s":50,"x":36,"y":0.204},{"s":50,"x":37,"y":0.197},{"s":50,"x":38,"y":0.191},{"s":50,"x":39,"y":0.185},{"s":50,"x":40,"y":0.179},{"s":50,"x":41,"y":0.174},{"s":50,"x":42,"y":0.168},{"s":50,"x":43,"y":0.163},{"s":50,"x":44,"y":0.157},{"s":50,"x":45,"y":0.152},{"s":50,"x":46,"y":0.146},{"s":50,"x":47,"y":0.141},{"s":50,"x":48,"y":0.136},{"s":50,"x":49,"y":0.131},{"s":50,"x":50,"y":0.126},{"s":50,"x":51,"y":0.121},{"s":50,"x":52,"y":0.116},{"s":50,"x":53,"y":0.113},{"s":50,"x":54,"y":0.108},{"s":50,"x":55,"y":0.104},{"s":50,"x":56,"y":0.1},{"s":50,"x":57,"y":0.0961},{"s":50,"x":58,"y":0.0924},{"s":50,"x":59,"y":0.0888},{"s":50,"x":60,"y":0.0853},{"s":50,"x":61,"y":0.0827},{"s":50,"x":62,"y":0.0794},{"s":50,"x":63,"y":0.077},{"s":50,"x":64,"y":0.0746},{"s":50,"x":65,"y":0.0723},{"s":50,"x":66,"y":0.07},{"s":50,"x":67,"y":0.0678},{"s":50,"x":68,"y":0.0657},{"s":50,"x":69,"y":0.0636},
{"s":40,"x":0,"y":1},{"s":40,"x":1,"y":1},{"s":40,"x":2,"y":1},{"s":40,"x":3,"y":0.996},{"s":40,"x":4,"y":0.992},{"s":40,"x":5,"y":0.984},{"s":40,"x":6,"y":0.968},{"s":40,"x":7,"y":0.946},{"s":40,"x":8,"y":0.916},{"s":40,"x":9,"y":0.88},{"s":40,"x":10,"y":0.839},{"s":40,"x":11,"y":0.793},{"s":40,"x":12,"y":0.744},{"s":40,"x":13,"y":0.698},{"s":40,"x":14,"y":0.649},{"s":40,"x":15,"y":0.6},{"s":40,"x":16,"y":0.549},{"s":40,"x":17,"y":0.503},{"s":40,"x":18,"y":0.46},{"s":40,"x":19,"y":0.422},{"s":40,"x":20,"y":0.386},{"s":40,"x":21,"y":0.351},{"s":40,"x":22,"y":0.319},{"s":40,"x":23,"y":0.29},{"s":40,"x":24,"y":0.263},{"s":40,"x":25,"y":0.239},{"s":40,"x":26,"y":0.217},{"s":40,"x":27,"y":0.197},{"s":40,"x":28,"y":0.182},{"s":40,"x":29,"y":0.168},{"s":40,"x":30,"y":0.155},{"s":40,"x":31,"y":0.143},{"s":40,"x":32,"y":0.132},{"s":40,"x":33,"y":0.123},{"s":40,"x":34,"y":0.114},{"s":40,"x":35,"y":0.106},{"s":40,"x":36,"y":0.0984},{"s":40,"x":37,"y":0.0922},{"s":40,"x":38,"y":0.0859},{"s":40,"x":39,"y":0.0808},{"s":40,"x":40,"y":0.0755},{"s":40,"x":41,"y":0.0708},{"s":40,"x":42,"y":0.067},{"s":40,"x":43,"y":0.0636},{"s":40,"x":44,"y":0.0601},{"s":40,"x":45,"y":0.0568},{"s":40,"x":46,"y":0.0541},{"s":40,"x":47,"y":0.0513},{"s":40,"x":48,"y":0.0489},{"s":40,"x":49,"y":0.0464},{"s":40,"x":50,"y":0.0447},{"s":40,"x":51,"y":0.043},{"s":40,"x":52,"y":0.0417},{"s":40,"x":53,"y":0.0407},{"s":40,"x":54,"y":0.0407},{"s":40,"x":55,"y":0.0407},{"s":40,"x":56,"y":0.0413},{"s":40,"x":57,"y":0.042},{"s":40,"x":58,"y":0.0426},{"s":40,"x":59,"y":0.0433},{"s":40,"x":60,"y":0.044},{"s":40,"x":61,"y":0.0447},{"s":40,"x":62,"y":0.0454},{"s":40,"x":63,"y":0.0464},{"s":40,"x":64,"y":0.0472},{"s":40,"x":65,"y":0.0483},{"s":40,"x":66,"y":0.049},{"s":40,"x":67,"y":0.0502},{"s":40,"x":68,"y":0.0514},{"s":40,"x":69,"y":0.053},
{"s":30,"x":0,"y":1},{"s":30,"x":1,"y":1},{"s":30,"x":2,"y":1},{"s":30,"x":3,"y":1},{"s":30,"x":4,"y":0.996},{"s":30,"x":5,"y":0.992},{"s":30,"x":6,"y":0.988},{"s":30,"x":7,"y":0.984},{"s":30,"x":8,"y":0.976},{"s":30,"x":9,"y":0.961},{"s":30,"x":10,"y":0.938},{"s":30,"x":11,"y":0.923},{"s":30,"x":12,"y":0.901},{"s":30,"x":13,"y":0.88},{"s":30,"x":14,"y":0.852},{"s":30,"x":15,"y":0.819},{"s":30,"x":16,"y":0.78},{"s":30,"x":17,"y":0.732},{"s":30,"x":18,"y":0.681},{"s":30,"x":19,"y":0.629},{"s":30,"x":20,"y":0.58},{"s":30,"x":21,"y":0.536},{"s":30,"x":22,"y":0.495},{"s":30,"x":23,"y":0.46},{"s":30,"x":24,"y":0.432},{"s":30,"x":25,"y":0.405},{"s":30,"x":26,"y":0.38},{"s":30,"x":27,"y":0.362},{"s":30,"x":28,"y":0.345},{"s":30,"x":29,"y":0.329},{"s":30,"x":30,"y":0.314},{"s":30,"x":31,"y":0.302},{"s":30,"x":32,"y":0.287},{"s":30,"x":33,"y":0.276},{"s":30,"x":34,"y":0.263},{"s":30,"x":35,"y":0.253},{"s":30,"x":36,"y":0.243},{"s":30,"x":37,"y":0.233},{"s":30,"x":38,"y":0.222},{"s":30,"x":39,"y":0.213},{"s":30,"x":40,"y":0.205},{"s":30,"x":41,"y":0.197},{"s":30,"x":42,"y":0.19},{"s":30,"x":43,"y":0.181},{"s":30,"x":44,"y":0.174},{"s":30,"x":45,"y":0.167},{"s":30,"x":46,"y":0.159},{"s":30,"x":47,"y":0.153},{"s":30,"x":48,"y":0.146},{"s":30,"x":49,"y":0.14},{"s":30,"x":50,"y":0.133},{"s":30,"x":51,"y":0.128},{"s":30,"x":52,"y":0.122},{"s":30,"x":53,"y":0.117},{"s":30,"x":54,"y":0.113},{"s":30,"x":55,"y":0.108},{"s":30,"x":56,"y":0.104},{"s":30,"x":57,"y":0.1},{"s":30,"x":58,"y":0.0961},{"s":30,"x":59,"y":0.0924},{"s":30,"x":60,"y":0.0888},{"s":30,"x":61,"y":0.086},{"s":30,"x":62,"y":0.0827},{"s":30,"x":63,"y":0.08},{"s":30,"x":64,"y":0.0775},{"s":30,"x":65,"y":0.075},{"s":30,"x":66,"y":0.0733},{"s":30,"x":67,"y":0.071},{"s":30,"x":68,"y":0.0693},{"s":30,"x":69,"y":0.067},
{"s":20,"x":0,"y":1},{"s":20,"x":1,"y":1},{"s":20,"x":2,"y":1},{"s":20,"x":3,"y":0.996},{"s":20,"x":4,"y":0.992},{"s":20,"x":5,"y":0.984},{"s":20,"x":6,"y":0.968},{"s":20,"x":7,"y":0.953},{"s":20,"x":8,"y":0.938},{"s":20,"x":9,"y":0.908},{"s":20,"x":10,"y":0.873},{"s":20,"x":11,"y":0.825},{"s":20,"x":12,"y":0.774},{"s":20,"x":13,"y":0.72},{"s":20,"x":14,"y":0.665},{"s":20,"x":15,"y":0.614},{"s":20,"x":16,"y":0.558},{"s":20,"x":17,"y":0.515},{"s":20,"x":18,"y":0.475},{"s":20,"x":19,"y":0.442},{"s":20,"x":20,"y":0.415},{"s":20,"x":21,"y":0.392},{"s":20,"x":22,"y":0.374},{"s":20,"x":23,"y":0.359},{"s":20,"x":24,"y":0.345},{"s":20,"x":25,"y":0.335},{"s":20,"x":26,"y":0.321},{"s":20,"x":27,"y":0.311},{"s":20,"x":28,"y":0.299},{"s":20,"x":29,"y":0.29},{"s":20,"x":30,"y":0.28},{"s":20,"x":31,"y":0.271},{"s":20,"x":32,"y":0.263},{"s":20,"x":33,"y":0.255},{"s":20,"x":34,"y":0.245},{"s":20,"x":35,"y":0.237},{"s":20,"x":36,"y":0.228},{"s":20,"x":37,"y":0.219},{"s":20,"x":38,"y":0.21},{"s":20,"x":39,"y":0.202},{"s":20,"x":40,"y":0.194},{"s":20,"x":41,"y":0.185},{"s":20,"x":42,"y":0.176},{"s":20,"x":43,"y":0.168},{"s":20,"x":44,"y":0.16},{"s":20,"x":45,"y":0.153},{"s":20,"x":46,"y":0.146},{"s":20,"x":47,"y":0.139},{"s":20,"x":48,"y":0.131},{"s":20,"x":49,"y":0.124},{"s":20,"x":50,"y":0.117},{"s":20,"x":51,"y":0.111},{"s":20,"x":52,"y":0.105},{"s":20,"x":53,"y":0.099},{"s":20,"x":54,"y":0.094},{"s":20,"x":55,"y":0.0888},{"s":20,"x":56,"y":0.0833},{"s":20,"x":57,"y":0.0782},{"s":20,"x":58,"y":0.0734},{"s":20,"x":59,"y":0.0689},{"s":20,"x":60,"y":0.0647},{"s":20,"x":61,"y":0.0608},{"s":20,"x":62,"y":0.0565},{"s":20,"x":63,"y":0.0526},{"s":20,"x":64,"y":0.049},{"s":20,"x":65,"y":0.0457},{"s":20,"x":66,"y":0.0421},{"s":20,"x":67,"y":0.0386},{"s":20,"x":68,"y":0.0351},{"s":20,"x":69,"y":0.0317}
],
"mnist":[
{"s":50,"x":0,"y":1},{"s":50,"x":1,"y":0.37},{"s":50,"x":2,"y":0.155},{"s":50,"x":3,"y":0.056},{"s":50,"x":4,"y":0.0248},{"s":50,"x":5,"y":0.0105},{"s":50,"x":6,"y":0.00625},{"s":50,"x":7,"y":0.0039},{"s":50,"x":8,"y":0.00278},{"s":50,"x":9,"y":0.00228},{"s":50,"x":10,"y":0.0021},{"s":50,"x":11,"y":0.0021},{"s":50,"x":12,"y":0.0021},{"s":50,"x":13,"y":0.0021},{"s":50,"x":14,"y":0.0021},{"s":50,"x":15,"y":0.0021},{"s":50,"x":16,"y":0.0021},{"s":50,"x":17,"y":0.0021},{"s":50,"x":18,"y":0.0021},{"s":50,"x":19,"y":0.0021},{"s":50,"x":20,"y":0.0021},{"s":50,"x":21,"y":0.0021},{"s":50,"x":22,"y":0.0021},{"s":50,"x":23,"y":0.0021},{"s":50,"x":24,"y":0.0021},{"s":50,"x":25,"y":0.0021},{"s":50,"x":26,"y":0.0021},{"s":50,"x":27,"y":0.0021},{"s":50,"x":28,"y":0.0021},{"s":50,"x":29,"y":0.0021},
{"s":40,"x":0,"y":1},{"s":40,"x":1,"y":0.42},{"s":40,"x":2,"y":0.14},{"s":40,"x":3,"y":0.047},{"s":40,"x":4,"y":0.017},{"s":40,"x":5,"y":0.0073},{"s":40,"x":6,"y":0.00327},{"s":40,"x":7,"y":0.00218},{"s":40,"x":8,"y":0.00176},{"s":40,"x":9,"y":0.00176},{"s":40,"x":10,"y":0.00176},{"s":40,"x":11,"y":0.00176},{"s":40,"x":12,"y":0.00176},{"s":40,"x":13,"y":0.00176},{"s":40,"x":14,"y":0.00176},{"s":40,"x":15,"y":0.00176},{"s":40,"x":16,"y":0.00176},{"s":40,"x":17,"y":0.00176},{"s":40,"x":18,"y":0.00176},{"s":40,"x":19,"y":0.00176},{"s":40,"x":20,"y":0.00176},{"s":40,"x":21,"y":0.00176},{"s":40,"x":22,"y":0.00176},{"s":40,"x":23,"y":0.00176},{"s":40,"x":24,"y":0.00176},{"s":40,"x":25,"y":0.00176},{"s":40,"x":26,"y":0.00176},{"s":40,"x":27,"y":0.00176},{"s":40,"x":28,"y":0.00176},{"s":40,"x":29,"y":0.00176},
{"s":30,"x":0,"y":1},{"s":30,"x":1,"y":0.4},{"s":30,"x":2,"y":0.13},{"s":30,"x":3,"y":0.042},{"s":30,"x":4,"y":0.014},{"s":30,"x":5,"y":0.0053},{"s":30,"x":6,"y":0.0024},{"s":30,"x":7,"y":0.0016},{"s":30,"x":8,"y":0.00134},{"s":30,"x":9,"y":0.00134},{"s":30,"x":10,"y":0.00134},{"s":30,"x":11,"y":0.00134},{"s":30,"x":12,"y":0.00134},{"s":30,"x":13,"y":0.00134},{"s":30,"x":14,"y":0.00134},{"s":30,"x":15,"y":0.00134},{"s":30,"x":16,"y":0.00134},{"s":30,"x":17,"y":0.00134},{"s":30,"x":18,"y":0.00134},{"s":30,"x":19,"y":0.00134},{"s":30,"x":20,"y":0.00134},{"s":30,"x":21,"y":0.00134},{"s":30,"x":22,"y":0.00134},{"s":30,"x":23,"y":0.00134},{"s":30,"x":24,"y":0.00134},{"s":30,"x":25,"y":0.00134},{"s":30,"x":26,"y":0.00134},{"s":30,"x":27,"y":0.00134},{"s":30,"x":28,"y":0.00134},{"s":30,"x":29,"y":0.00134},
{"s":20,"x":0,"y":1},{"s":20,"x":1,"y":0.437},{"s":20,"x":2,"y":0.132},{"s":20,"x":3,"y":0.0403},{"s":20,"x":4,"y":0.0126},{"s":20,"x":5,"y":0.0042},{"s":20,"x":6,"y":0.00163},{"s":20,"x":7,"y":0.00097},{"s":20,"x":8,"y":0.00089},{"s":20,"x":9,"y":0.00089},{"s":20,"x":10,"y":0.00089},{"s":20,"x":11,"y":0.00089},{"s":20,"x":12,"y":0.00089},{"s":20,"x":13,"y":0.00089},{"s":20,"x":14,"y":0.00089},{"s":20,"x":15,"y":0.00089},{"s":20,"x":16,"y":0.00089},{"s":20,"x":17,"y":0.00089},{"s":20,"x":18,"y":0.00089},{"s":20,"x":19,"y":0.00089},{"s":20,"x":20,"y":0.00089},{"s":20,"x":21,"y":0.00089},{"s":20,"x":22,"y":0.00089},{"s":20,"x":23,"y":0.00089},{"s":20,"x":24,"y":0.00089},{"s":20,"x":25,"y":0.00089},{"s":20,"x":26,"y":0.00089},{"s":20,"x":27,"y":0.00089},{"s":20,"x":28,"y":0.00089},{"s":20,"x":29,"y":0.00089}
],
"poker":[
{"s":50,"x":0,"y":0.88},{"s":50,"x":1,"y":0.52},{"s":50,"x":2,"y":0.32},{"s":50,"x":3,"y":0.18},{"s":50,"x":4,"y":0.085},{"s":50,"x":5,"y":0.037},{"s":50,"x":6,"y":0.016},{"s":50,"x":7,"y":0.0107},{"s":50,"x":8,"y":0.00975},{"s":50,"x":9,"y":0.00975},{"s":50,"x":10,"y":0.00975},{"s":50,"x":11,"y":0.00975},{"s":50,"x":12,"y":0.00975},{"s":50,"x":13,"y":0.00975},{"s":50,"x":14,"y":0.00975},{"s":50,"x":15,"y":0.00975},{"s":50,"x":16,"y":0.00975},{"s":50,"x":17,"y":0.00975},{"s":50,"x":18,"y":0.00975},{"s":50,"x":19,"y":0.00975},
{"s":40,"x":0,"y":0.88},{"s":40,"x":1,"y":0.537},{"s":40,"x":2,"y":0.355},{"s":40,"x":3,"y":0.199},{"s":40,"x":4,"y":0.0914},{"s":40,"x":5,"y":0.0404},{"s":40,"x":6,"y":0.0174},{"s":40,"x":7,"y":0.0091},{"s":40,"x":8,"y":0.00644},{"s":40,"x":9,"y":0.00644},{"s":40,"x":10,"y":0.00644},{"s":40,"x":11,"y":0.00644},{"s":40,"x":12,"y":0.00644},{"s":40,"x":13,"y":0.00644},{"s":40,"x":14,"y":0.00644},{"s":40,"x":15,"y":0.00644},{"s":40,"x":16,"y":0.00644},{"s":40,"x":17,"y":0.00644},{"s":40,"x":18,"y":0.00644},{"s":40,"x":19,"y":0.00644},
{"s":30,"x":0,"y":0.88},{"s":30,"x":1,"y":0.5},{"s":30,"x":2,"y":0.3},{"s":30,"x":3,"y":0.16},{"s":30,"x":4,"y":0.072},{"s":30,"x":5,"y":0.033},{"s":30,"x":6,"y":0.0143},{"s":30,"x":7,"y":0.0086},{"s":30,"x":8,"y":0.00857},{"s":30,"x":9,"y":0.00857},{"s":30,"x":10,"y":0.00857},{"s":30,"x":11,"y":0.00857},{"s":30,"x":12,"y":0.00857},{"s":30,"x":13,"y":0.00857},{"s":30,"x":14,"y":0.00857},{"s":30,"x":15,"y":0.00857},{"s":30,"x":16,"y":0.00857},{"s":30,"x":17,"y":0.00857},{"s":30,"x":18,"y":0.00857},{"s":30,"x":19,"y":0.00857},
{"s":20,"x":0,"y":0.88},{"s":20,"x":1,"y":0.485},{"s":20,"x":2,"y":0.232},{"s":20,"x":3,"y":0.107},{"s":20,"x":4,"y":0.0472},{"s":20,"x":5,"y":0.0198},{"s":20,"x":6,"y":0.00792},{"s":20,"x":7,"y":0.0036},{"s":20,"x":8,"y":0.00316},{"s":20,"x":9,"y":0.00347},{"s":20,"x":10,"y":0.0036},{"s":20,"x":11,"y":0.0037},{"s":20,"x":12,"y":0.0038},{"s":20,"x":13,"y":0.00385},{"s":20,"x":14,"y":0.0039},{"s":20,"x":15,"y":0.00394},{"s":20,"x":16,"y":0.004},{"s":20,"x":17,"y":0.00404},{"s":20,"x":18,"y":0.0041},{"s":20,"x":19,"y":0.00413}
],
"spacega":[
{"s":50,"x":0,"y":1},{"s":50,"x":1,"y":0.00388},{"s":50,"x":2,"y":0.000898},{"s":50,"x":3,"y":0.000664},{"s":50,"x":4,"y":0.000664},{"s":50,"x":5,"y":0.000664},{"s":50,"x":6,"y":0.000664},{"s":50,"x":7,"y":0.000664},{"s":50,"x":8,"y":0.000664},{"s":50,"x":9,"y":0.000664},{"s":50,"x":10,"y":0.000664},{"s":50,"x":11,"y":0.000664},{"s":50,"x":12,"y":0.000664},{"s":50,"x":13,"y":0.000664},{"s":50,"x":14,"y":0.000664},{"s":50,"x":15,"y":0.000664},{"s":50,"x":16,"y":0.000664},{"s":50,"x":17,"y":0.000664},{"s":50,"x":18,"y":0.000664},{"s":50,"x":19,"y":0.000664},
{"s":40,"x":0,"y":1},{"s":40,"x":1,"y":0.00077},{"s":40,"x":2,"y":0.000237},{"s":40,"x":3,"y":0.00038},{"s":40,"x":4,"y":0.00038},{"s":40,"x":5,"y":0.00038},{"s":40,"x":6,"y":0.00038},{"s":40,"x":7,"y":0.00038},{"s":40,"x":8,"y":0.00038},{"s":40,"x":9,"y":0.00038},{"s":40,"x":10,"y":0.00038},{"s":40,"x":11,"y":0.00038},{"s":40,"x":12,"y":0.00038},{"s":40,"x":13,"y":0.00038},{"s":40,"x":14,"y":0.00038},{"s":40,"x":15,"y":0.00038},{"s":40,"x":16,"y":0.00038},{"s":40,"x":17,"y":0.00038},{"s":40,"x":18,"y":0.00038},{"s":40,"x":19,"y":0.00038},
{"s":30,"x":0,"y":1},{"s":30,"x":1,"y":0.00096},{"s":30,"x":2,"y":0.00024},{"s":30,"x":3,"y":0.00035},{"s":30,"x":4,"y":0.00035},{"s":30,"x":5,"y":0.00035},{"s":30,"x":6,"y":0.00035},{"s":30,"x":7,"y":0.00035},{"s":30,"x":8,"y":0.00035},{"s":30,"x":9,"y":0.00035},{"s":30,"x":10,"y":0.00035},{"s":30,"x":11,"y":0.00035},{"s":30,"x":12,"y":0.00035},{"s":30,"x":13,"y":0.00035},{"s":30,"x":14,"y":0.00035},{"s":30,"x":15,"y":0.00035},{"s":30,"x":16,"y":0.00035},{"s":30,"x":17,"y":0.00035},{"s":30,"x":18,"y":0.00035},{"s":30,"x":19,"y":0.00035},
{"s":20,"x":0,"y":1},{"s":20,"x":1,"y":0.000088},{"s":20,"x":2,"y":0.000096},{"s":20,"x":3,"y":0.00016},{"s":20,"x":4,"y":0.000175},{"s":20,"x":5,"y":0.000175},{"s":20,"x":6,"y":0.000175},{"s":20,"x":7,"y":0.000175},{"s":20,"x":8,"y":0.000175},{"s":20,"x":9,"y":0.000175},{"s":20,"x":10,"y":0.000175},{"s":20,"x":11,"y":0.000175},{"s":20,"x":12,"y":0.000175},{"s":20,"x":13,"y":0.000175},{"s":20,"x":14,"y":0.000175},{"s":20,"x":15,"y":0.000175},{"s":20,"x":16,"y":0.000175},{"s":20,"x":17,"y":0.000175},{"s":20,"x":18,"y":0.000175},{"s":20,"x":19,"y":0.000175}
],
"splice":[
{"s":50,"x":0,"y":1},{"s":50,"x":1,"y":0.55},{"s":50,"x":2,"y":0.352},{"s":50,"x":3,"y":0.299},{"s":50,"x":4,"y":0.284},{"s":50,"x":5,"y":0.274},{"s":50,"x":6,"y":0.268},{"s":50,"x":7,"y":0.262},{"s":50,"x":8,"y":0.259},{"s":50,"x":9,"y":0.257},{"s":50,"x":10,"y":0.255},{"s":50,"x":11,"y":0.253},{"s":50,"x":12,"y":0.252},{"s":50,"x":13,"y":0.251},{"s":50,"x":14,"y":0.25},{"s":50,"x":15,"y":0.249},{"s":50,"x":16,"y":0.249},{"s":50,"x":17,"y":0.249},{"s":50,"x":18,"y":0.249},{"s":50,"x":19,"y":0.249},{"s":50,"x":20,"y":0.249},{"s":50,"x":21,"y":0.249},{"s":50,"x":22,"y":0.249},{"s":50,"x":23,"y":0.249},{"s":50,"x":24,"y":0.249},{"s":50,"x":25,"y":0.249},{"s":50,"x":26,"y":0.249},{"s":50,"x":27,"y":0.249},{"s":50,"x":28,"y":0.249},{"s":50,"x":29,"y":0.249},
{"s":40,"x":0,"y":1},{"s":40,"x":1,"y":0.398},{"s":40,"x":2,"y":0.272},{"s":40,"x":3,"y":0.268},{"s":40,"x":4,"y":0.235},{"s":40,"x":5,"y":0.242},{"s":40,"x":6,"y":0.224},{"s":40,"x":7,"y":0.232},{"s":40,"x":8,"y":0.216},{"s":40,"x":9,"y":0.229},{"s":40,"x":10,"y":0.209},{"s":40,"x":11,"y":0.224},{"s":40,"x":12,"y":0.213},{"s":40,"x":13,"y":0.222},{"s":40,"x":14,"y":0.207},{"s":40,"x":15,"y":0.219},{"s":40,"x":16,"y":0.205},{"s":40,"x":17,"y":0.216},{"s":40,"x":18,"y":0.204},{"s":40,"x":19,"y":0.215},{"s":40,"x":20,"y":0.209},{"s":40,"x":21,"y":0.216},{"s":40,"x":22,"y":0.205},{"s":40,"x":23,"y":0.213},{"s":40,"x":24,"y":0.204},{"s":40,"x":25,"y":0.215},{"s":40,"x":26,"y":0.205},{"s":40,"x":27,"y":0.215},{"s":40,"x":28,"y":0.204},{"s":40,"x":29,"y":0.216},
{"s":30,"x":0,"y":1},{"s":30,"x":1,"y":0.4},{"s":30,"x":2,"y":0.18},{"s":30,"x":3,"y":0.153},{"s":30,"x":4,"y":0.14},{"s":30,"x":5,"y":0.13},{"s":30,"x":6,"y":0.126},{"s":30,"x":7,"y":0.123},{"s":30,"x":8,"y":0.122},{"s":30,"x":9,"y":0.1206},{"s":30,"x":10,"y":0.1206},{"s":30,"x":11,"y":0.1206},{"s":30,"x":12,"y":0.1206},{"s":30,"x":13,"y":0.1206},{"s":30,"x":14,"y":0.1206},{"s":30,"x":15,"y":0.1206},{"s":30,"x":16,"y":0.1206},{"s":30,"x":17,"y":0.1206},{"s":30,"x":18,"y":0.1206},{"s":30,"x":19,"y":0.1206},{"s":30,"x":20,"y":0.1206},{"s":30,"x":21,"y":0.1206},{"s":30,"x":22,"y":0.1206},{"s":30,"x":23,"y":0.1206},{"s":30,"x":24,"y":0.1206},{"s":30,"x":25,"y":0.1206},{"s":30,"x":26,"y":0.1206},{"s":30,"x":27,"y":0.1206},{"s":30,"x":28,"y":0.1206},{"s":30,"x":29,"y":0.1206},
{"s":20,"x":0,"y":1},{"s":20,"x":1,"y":0.224},{"s":20,"x":2,"y":0.0523},{"s":20,"x":3,"y":0.0437},{"s":20,"x":4,"y":0.0447},{"s":20,"x":5,"y":0.0452},{"s":20,"x":6,"y":0.046},{"s":20,"x":7,"y":0.0463},{"s":20,"x":8,"y":0.0466},{"s":20,"x":9,"y":0.047},{"s":20,"x":10,"y":0.0472},{"s":20,"x":11,"y":0.0473},{"s":20,"x":12,"y":0.0473},{"s":20,"x":13,"y":0.0473},{"s":20,"x":14,"y":0.0473},{"s":20,"x":15,"y":0.0473},{"s":20,"x":16,"y":0.0473},{"s":20,"x":17,"y":0.0473},{"s":20,"x":18,"y":0.0473},{"s":20,"x":19,"y":0.0473},{"s":20,"x":20,"y":0.0473},{"s":20,"x":21,"y":0.0473},{"s":20,"x":22,"y":0.0473},{"s":20,"x":23,"y":0.0473},{"s":20,"x":24,"y":0.0473},{"s":20,"x":25,"y":0.0473},{"s":20,"x":26,"y":0.0473},{"s":20,"x":27,"y":0.0473},{"s":20,"x":28,"y":0.0473},{"s":20,"x":29,"y":0.0473}
],
"w8a":[
{"s":50,"x":0,"y":1},{"s":50,"x":1,"y":0.428},{"s":50,"x":2,"y":0.0748},{"s":50,"x":3,"y":0.0381},{"s":50,"x":4,"y":0.0262},{"s":50,"x":5,"y":0.0213},{"s":50,"x":6,"y":0.0171},{"s":50,"x":7,"y":0.015},{"s":50,"x":8,"y":0.0142},{"s":50,"x":9,"y":0.0139},{"s":50,"x":10,"y":0.0143},{"s":50,"x":11,"y":0.0145},{"s":50,"x":12,"y":0.0146},{"s":50,"x":13,"y":0.0147},{"s":50,"x":14,"y":0.0147},{"s":50,"x":15,"y":0.0147},{"s":50,"x":16,"y":0.0147},{"s":50,"x":17,"y":0.0147},{"s":50,"x":18,"y":0.0147},{"s":50,"x":19,"y":0.0147},
{"s":40,"x":0,"y":1},{"s":40,"x":1,"y":0.339},{"s":40,"x":2,"y":0.0559},{"s":40,"x":3,"y":0.0404},{"s":40,"x":4,"y":0.0339},{"s":40,"x":5,"y":0.0278},{"s":40,"x":6,"y":0.0234},{"s":40,"x":7,"y":0.0196},{"s":40,"x":8,"y":0.0171},{"s":40,"x":9,"y":0.0152},{"s":40,"x":10,"y":0.0139},{"s":40,"x":11,"y":0.0132},{"s":40,"x":12,"y":0.0127},{"s":40,"x":13,"y":0.0123},{"s":40,"x":14,"y":0.0121},{"s":40,"x":15,"y":0.0119},{"s":40,"x":16,"y":0.0119},{"s":40,"x":17,"y":0.0119},{"s":40,"x":18,"y":0.0119},{"s":40,"x":19,"y":0.0119},
{"s":30,"x":0,"y":1},{"s":30,"x":1,"y":0.31},{"s":30,"x":2,"y":0.063},{"s":30,"x":3,"y":0.037},{"s":30,"x":4,"y":0.03},{"s":30,"x":5,"y":0.025},{"s":30,"x":6,"y":0.021},{"s":30,"x":7,"y":0.0175},{"s":30,"x":8,"y":0.0139},{"s":30,"x":9,"y":0.0123},{"s":30,"x":10,"y":0.0113},{"s":30,"x":11,"y":0.0107},{"s":30,"x":12,"y":0.0103},{"s":30,"x":13,"y":0.0101},{"s":30,"x":14,"y":0.0098},{"s":30,"x":15,"y":0.0098},{"s":30,"x":16,"y":0.0098},{"s":30,"x":17,"y":0.0098},{"s":30,"x":18,"y":0.0098},{"s":30,"x":19,"y":0.0098},
{"s":20,"x":0,"y":1},{"s":20,"x":1,"y":0.248},{"s":20,"x":2,"y":0.0459},{"s":20,"x":3,"y":0.0331},{"s":20,"x":4,"y":0.0278},{"s":20,"x":5,"y":0.0234},{"s":20,"x":6,"y":0.0181},{"s":20,"x":7,"y":0.0143},{"s":20,"x":8,"y":0.012},{"s":20,"x":9,"y":0.01},{"s":20,"x":10,"y":0.0089},{"s":20,"x":11,"y":0.008},{"s":20,"x":12,"y":0.0075},{"s":20,"x":13,"y":0.00705},{"s":20,"x":14,"y":0.0068},{"s":20,"x":15,"y":0.0067},{"s":20,"x":16,"y":0.0066},{"s":20,"x":17,"y":0.0065},{"s":20,"x":18,"y":0.0064},{"s":20,"x":19,"y":0.00635}
],
"year":[
{"s":50,"x":0,"y":1},{"s":50,"x":1,"y":0.09},{"s":50,"x":2,"y":0.012},{"s":50,"x":3,"y":0.003},{"s":50,"x":4,"y":0.00095},{"s":50,"x":5,"y":0.00095},{"s":50,"x":6,"y":0.00095},{"s":50,"x":7,"y":0.00095},{"s":50,"x":8,"y":0.00095},{"s":50,"x":9,"y":0.00095},{"s":50,"x":10,"y":0.00095},{"s":50,"x":11,"y":0.00095},{"s":50,"x":12,"y":0.00095},{"s":50,"x":13,"y":0.00095},{"s":50,"x":14,"y":0.00095},{"s":50,"x":15,"y":0.00095},{"s":50,"x":16,"y":0.00095},{"s":50,"x":17,"y":0.00095},{"s":50,"x":18,"y":0.00095},{"s":50,"x":19,"y":0.00095},
{"s":40,"x":0,"y":1},{"s":40,"x":1,"y":0.09},{"s":40,"x":2,"y":0.0115},{"s":40,"x":3,"y":0.0025},{"s":40,"x":4,"y":0.00071},{"s":40,"x":5,"y":0.00072},{"s":40,"x":6,"y":0.00072},{"s":40,"x":7,"y":0.00072},{"s":40,"x":8,"y":0.00072},{"s":40,"x":9,"y":0.00072},{"s":40,"x":10,"y":0.00072},{"s":40,"x":11,"y":0.00072},{"s":40,"x":12,"y":0.00072},{"s":40,"x":13,"y":0.00072},{"s":40,"x":14,"y":0.00072},{"s":40,"x":15,"y":0.00072},{"s":40,"x":16,"y":0.00072},{"s":40,"x":17,"y":0.00072},{"s":40,"x":18,"y":0.00072},{"s":40,"x":19,"y":0.00072},
{"s":30,"x":0,"y":1},{"s":30,"x":1,"y":0.09},{"s":30,"x":2,"y":0.011},{"s":30,"x":3,"y":0.0023},{"s":30,"x":4,"y":0.0006},{"s":30,"x":5,"y":0.00057},{"s":30,"x":6,"y":0.00059},{"s":30,"x":7,"y":0.00059},{"s":30,"x":8,"y":0.00059},{"s":30,"x":9,"y":0.00059},{"s":30,"x":10,"y":0.00059},{"s":30,"x":11,"y":0.00059},{"s":30,"x":12,"y":0.00059},{"s":30,"x":13,"y":0.00059},{"s":30,"x":14,"y":0.00059},{"s":30,"x":15,"y":0.00059},{"s":30,"x":16,"y":0.00059},{"s":30,"x":17,"y":0.00059},{"s":30,"x":18,"y":0.00059},{"s":30,"x":19,"y":0.00059},
{"s":20,"x":0,"y":1},{"s":20,"x":1,"y":0.0946},{"s":20,"x":2,"y":0.01135},{"s":20,"x":3,"y":0.00214},{"s":20,"x":4,"y":0.000419},{"s":20,"x":5,"y":0.000383},{"s":20,"x":6,"y":0.00041},{"s":20,"x":7,"y":0.00041},{"s":20,"x":8,"y":0.00041},{"s":20,"x":9,"y":0.00041},{"s":20,"x":10,"y":0.00041},{"s":20,"x":11,"y":0.00041},{"s":20,"x":12,"y":0.00041},{"s":20,"x":13,"y":0.00041},{"s":20,"x":14,"y":0.00041},{"s":20,"x":15,"y":0.00041},{"s":20,"x":16,"y":0.00041},{"s":20,"x":17,"y":0.00041},{"s":20,"x":18,"y":0.00041},{"s":20,"x":19,"y":0.00041}
]
},
"concat":[
{"title":"a9a","data":{"name":"a9a"},"encoding":{"x":{"field":"x","type":"quantitative","scale":{"domain":[-1.45,30.45],"nice":false,"zero":false},"axis":{"values":[0,10,20,30],"title":null}},"y":{"field":"y","type":"quantitative","scale":{"type":"log","domain":[0.00267,1.29],"nice":false},"axis":{"tickCount":10,"title":null,"encode":{"ticks":{"update":{"x2":{"signal":"abs(log(datum.value)/LN10-round(log(datum.value)/LN10))<0.01?-4:-2"},"strokeWidth":{"signal":"abs(log(datum.value)/LN10-round(log(datum.value)/LN10))<0.01?0.8:0.6"}}}}}},"stroke":{"field":"s","type":"nominal","sort":"descending","legend":null}},"layer":[{"mark":"line","encoding":{"strokeDash":{"field":"s","type":"nominal","sort":"descending","scale":{"range":[[1,0],[5.5,2.4],[1,0],[1,0]]},"legend":null}}},{"mark":"point","encoding":{"fill":{"field":"s","type":"nominal","sort":"descending","legend":null},"shape":{"field":"s","type":"nominal","sort":"descending","legend":null}}}]},
{"title":"abalone","data":{"name":"abalone"},"encoding":{"x":{"field":"x","type":"quantitative","scale":{"domain":[-0.95,19.95],"nice":false,"zero":false},"axis":{"values":[0,5,10,15],"title":null}},"y":{"field":"y","type":"quantitative","scale":{"type":"log","domain":[0.0532,1.08],"nice":false},"axis":{"tickCount":10,"title":null,"encode":{"ticks":{"update":{"x2":{"signal":"abs(log(datum.value)/LN10-round(log(datum.value)/LN10))<0.01?-4:-2"},"strokeWidth":{"signal":"abs(log(datum.value)/LN10-round(log(datum.value)/LN10))<0.01?0.8:0.6"}}}}}},"stroke":{"field":"s","type":"nominal","sort":"descending","legend":null}},"layer":[{"mark":"line","encoding":{"strokeDash":{"field":"s","type":"nominal","sort":"descending","scale":{"range":[[1,0],[5.5,2.4],[1,0],[1,0]]},"legend":null}}},{"mark":"point","encoding":{"fill":{"field":"s","type":"nominal","sort":"descending","legend":null},"shape":{"field":"s","type":"nominal","sort":"descending","legend":null}}}]},
{"title":"acoustic","data":{"name":"acoustic"},"encoding":{"x":{"field":"x","type":"quantitative","scale":{"domain":[-1.45,30.45],"nice":false,"zero":false},"axis":{"values":[0,10,20,30],"title":null}},"y":{"field":"y","type":"quantitative","scale":{"type":"log","domain":[0.000366,1.41],"nice":false},"axis":{"tickCount":10,"title":null,"encode":{"ticks":{"update":{"x2":{"signal":"abs(log(datum.value)/LN10-round(log(datum.value)/LN10))<0.01?-4:-2"},"strokeWidth":{"signal":"abs(log(datum.value)/LN10-round(log(datum.value)/LN10))<0.01?0.8:0.6"}}}}}},"stroke":{"field":"s","type":"nominal","sort":"descending","legend":null}},"layer":[{"mark":"line","encoding":{"strokeDash":{"field":"s","type":"nominal","sort":"descending","scale":{"range":[[1,0],[5.5,2.4],[1,0],[1,0]]},"legend":null}}},{"mark":"point","encoding":{"fill":{"field":"s","type":"nominal","sort":"descending","legend":null},"shape":{"field":"s","type":"nominal","sort":"descending","legend":null}}}]},
{"title":"aloi","data":{"name":"aloi"},"encoding":{"x":{"field":"x","type":"quantitative","scale":{"domain":[-1.45,30.45],"nice":false,"zero":false},"axis":{"values":[0,10,20,30],"title":null}},"y":{"field":"y","type":"quantitative","scale":{"type":"log","domain":[0.00339,1.28],"nice":false},"axis":{"tickCount":10,"title":null,"encode":{"ticks":{"update":{"x2":{"signal":"abs(log(datum.value)/LN10-round(log(datum.value)/LN10))<0.01?-4:-2"},"strokeWidth":{"signal":"abs(log(datum.value)/LN10-round(log(datum.value)/LN10))<0.01?0.8:0.6"}}}}}},"stroke":{"field":"s","type":"nominal","sort":"descending","legend":null}},"layer":[{"mark":"line","encoding":{"strokeDash":{"field":"s","type":"nominal","sort":"descending","scale":{"range":[[1,0],[5.5,2.4],[1,0],[1,0]]},"legend":null}}},{"mark":"point","encoding":{"fill":{"field":"s","type":"nominal","sort":"descending","legend":null},"shape":{"field":"s","type":"nominal","sort":"descending","legend":null}}}]},
{"title":"combined","data":{"name":"combined"},"encoding":{"x":{"field":"x","type":"quantitative","scale":{"domain":[-1.95,40.95],"nice":false,"zero":false},"axis":{"values":[0,10,20,30,40],"title":null}},"y":{"field":"y","type":"quantitative","scale":{"type":"log","domain":[0.001127,1.35],"nice":false},"axis":{"tickCount":10,"title":null,"encode":{"ticks":{"update":{"x2":{"signal":"abs(log(datum.value)/LN10-round(log(datum.value)/LN10))<0.01?-4:-2"},"strokeWidth":{"signal":"abs(log(datum.value)/LN10-round(log(datum.value)/LN10))<0.01?0.8:0.6"}}}}}},"stroke":{"field":"s","type":"nominal","sort":"descending","legend":null}},"layer":[{"mark":"line","encoding":{"strokeDash":{"field":"s","type":"nominal","sort":"descending","scale":{"range":[[1,0],[5.5,2.4],[1,0],[1,0]]},"legend":null}}},{"mark":"point","encoding":{"fill":{"field":"s","type":"nominal","sort":"descending","legend":null},"shape":{"field":"s","type":"nominal","sort":"descending","legend":null}}}]},
{"title":"connect-4","data":{"name":"connect4"},"encoding":{"x":{"field":"x","type":"quantitative","scale":{"domain":[-1.95,40.95],"nice":false,"zero":false},"axis":{"values":[0,10,20,30,40],"title":null}},"y":{"field":"y","type":"quantitative","scale":{"type":"log","domain":[0.018,1.19],"nice":false},"axis":{"tickCount":10,"title":null,"encode":{"ticks":{"update":{"x2":{"signal":"abs(log(datum.value)/LN10-round(log(datum.value)/LN10))<0.01?-4:-2"},"strokeWidth":{"signal":"abs(log(datum.value)/LN10-round(log(datum.value)/LN10))<0.01?0.8:0.6"}}}}}},"stroke":{"field":"s","type":"nominal","sort":"descending","legend":null}},"layer":[{"mark":"line","encoding":{"strokeDash":{"field":"s","type":"nominal","sort":"descending","scale":{"range":[[1,0],[5.5,2.4],[1,0],[1,0]]},"legend":null}}},{"mark":"point","encoding":{"fill":{"field":"s","type":"nominal","sort":"descending","legend":null},"shape":{"field":"s","type":"nominal","sort":"descending","legend":null}}}]},
{"title":"covtype","data":{"name":"covtype"},"encoding":{"x":{"field":"x","type":"quantitative","scale":{"domain":[-1.45,30.45],"nice":false,"zero":false},"axis":{"values":[0,10,20,30],"title":null}},"y":{"field":"y","type":"quantitative","scale":{"type":"log","domain":[0.00011,1.55],"nice":false},"axis":{"tickCount":10,"title":null,"encode":{"ticks":{"update":{"x2":{"signal":"abs(log(datum.value)/LN10-round(log(datum.value)/LN10))<0.01?-4:-2"},"strokeWidth":{"signal":"abs(log(datum.value)/LN10-round(log(datum.value)/LN10))<0.01?0.8:0.6"}}}}}},"stroke":{"field":"s","type":"nominal","sort":"descending","legend":null}},"layer":[{"mark":"line","encoding":{"strokeDash":{"field":"s","type":"nominal","sort":"descending","scale":{"range":[[1,0],[5.5,2.4],[1,0],[1,0]]},"legend":null}}},{"mark":"point","encoding":{"fill":{"field":"s","type":"nominal","sort":"descending","legend":null},"shape":{"field":"s","type":"nominal","sort":"descending","legend":null}}}]},
{"title":"housing","data":{"name":"housing"},"encoding":{"x":{"field":"x","type":"quantitative","scale":{"domain":[-0.95,19.95],"nice":false,"zero":false},"axis":{"values":[0,5,10,15],"title":null}},"y":{"field":"y","type":"quantitative","scale":{"type":"log","domain":[0.0262,0.995],"nice":false},"axis":{"tickCount":10,"title":null,"encode":{"ticks":{"update":{"x2":{"signal":"abs(log(datum.value)/LN10-round(log(datum.value)/LN10))<0.01?-4:-2"},"strokeWidth":{"signal":"abs(log(datum.value)/LN10-round(log(datum.value)/LN10))<0.01?0.8:0.6"}}}}}},"stroke":{"field":"s","type":"nominal","sort":"descending","legend":null}},"layer":[{"mark":"line","encoding":{"strokeDash":{"field":"s","type":"nominal","sort":"descending","scale":{"range":[[1,0],[5.5,2.4],[1,0],[1,0]]},"legend":null}}},{"mark":"point","encoding":{"fill":{"field":"s","type":"nominal","sort":"descending","legend":null},"shape":{"field":"s","type":"nominal","sort":"descending","legend":null}}}]},
{"title":"ijcnn1","data":{"name":"ijcnn1"},"encoding":{"x":{"field":"x","type":"quantitative","scale":{"domain":[-3.45,72.45],"nice":false,"zero":false},"axis":{"values":[0,20,40,60],"title":null}},"y":{"field":"y","type":"quantitative","scale":{"type":"log","domain":[0.0263,1.19],"nice":false},"axis":{"tickCount":10,"title":null,"encode":{"ticks":{"update":{"x2":{"signal":"abs(log(datum.value)/LN10-round(log(datum.value)/LN10))<0.01?-4:-2"},"strokeWidth":{"signal":"abs(log(datum.value)/LN10-round(log(datum.value)/LN10))<0.01?0.8:0.6"}}}}}},"stroke":{"field":"s","type":"nominal","sort":"descending","legend":null}},"layer":[{"mark":"line","encoding":{"strokeDash":{"field":"s","type":"nominal","sort":"descending","scale":{"range":[[1,0],[5.5,2.4],[1,0],[1,0]]},"legend":null}}},{"mark":"point","encoding":{"fill":{"field":"s","type":"nominal","sort":"descending","legend":null},"shape":{"field":"s","type":"nominal","sort":"descending","legend":null}}}]},
{"title":"mnist","data":{"name":"mnist"},"encoding":{"x":{"field":"x","type":"quantitative","scale":{"domain":[-1.45,30.45],"nice":false,"zero":false},"axis":{"values":[0,10,20,30],"title":null}},"y":{"field":"y","type":"quantitative","scale":{"type":"log","domain":[0.000625,1.43],"nice":false},"axis":{"tickCount":10,"title":null,"encode":{"ticks":{"update":{"x2":{"signal":"abs(log(datum.value)/LN10-round(log(datum.value)/LN10))<0.01?-4:-2"},"strokeWidth":{"signal":"abs(log(datum.value)/LN10-round(log(datum.value)/LN10))<0.01?0.8:0.6"}}}}}},"stroke":{"field":"s","type":"nominal","sort":"descending","legend":null}},"layer":[{"mark":"line","encoding":{"strokeDash":{"field":"s","type":"nominal","sort":"descending","scale":{"range":[[1,0],[5.5,2.4],[1,0],[1,0]]},"legend":null}}},{"mark":"point","encoding":{"fill":{"field":"s","type":"nominal","sort":"descending","legend":null},"shape":{"field":"s","type":"nominal","sort":"descending","legend":null}}}]},
{"title":"poker","data":{"name":"poker"},"encoding":{"x":{"field":"x","type":"quantitative","scale":{"domain":[-0.95,19.95],"nice":false,"zero":false},"axis":{"values":[0,5,10,15],"title":null}},"y":{"field":"y","type":"quantitative","scale":{"type":"log","domain":[0.00244,1.17],"nice":false},"axis":{"tickCount":10,"title":null,"encode":{"ticks":{"update":{"x2":{"signal":"abs(log(datum.value)/LN10-round(log(datum.value)/LN10))<0.01?-4:-2"},"strokeWidth":{"signal":"abs(log(datum.value)/LN10-round(log(datum.value)/LN10))<0.01?0.8:0.6"}}}}}},"stroke":{"field":"s","type":"nominal","sort":"descending","legend":null}},"layer":[{"mark":"line","encoding":{"strokeDash":{"field":"s","type":"nominal","sort":"descending","scale":{"range":[[1,0],[5.5,2.4],[1,0],[1,0]]},"legend":null}}},{"mark":"point","encoding":{"fill":{"field":"s","type":"nominal","sort":"descending","legend":null},"shape":{"field":"s","type":"nominal","sort":"descending","legend":null}}}]},
{"title":"space_ga","data":{"name":"spacega"},"encoding":{"x":{"field":"x","type":"quantitative","scale":{"domain":[-0.95,19.95],"nice":false,"zero":false},"axis":{"values":[0,5,10,15],"title":null}},"y":{"field":"y","type":"quantitative","scale":{"type":"log","domain":[0.000056,1.6],"nice":false},"axis":{"tickCount":10,"title":null,"encode":{"ticks":{"update":{"x2":{"signal":"abs(log(datum.value)/LN10-round(log(datum.value)/LN10))<0.01?-4:-2"},"strokeWidth":{"signal":"abs(log(datum.value)/LN10-round(log(datum.value)/LN10))<0.01?0.8:0.6"}}}}}},"stroke":{"field":"s","type":"nominal","sort":"descending","legend":null}},"layer":[{"mark":"line","encoding":{"strokeDash":{"field":"s","type":"nominal","sort":"descending","scale":{"range":[[1,0],[5.5,2.4],[1,0],[1,0]]},"legend":null}}},{"mark":"point","encoding":{"fill":{"field":"s","type":"nominal","sort":"descending","legend":null},"shape":{"field":"s","type":"nominal","sort":"descending","legend":null}}}]},
{"title":"splice","data":{"name":"splice"},"encoding":{"x":{"field":"x","type":"quantitative","scale":{"domain":[-1.45,30.45],"nice":false,"zero":false},"axis":{"values":[0,10,20,30],"title":null}},"y":{"field":"y","type":"quantitative","scale":{"type":"log","domain":[0.0379,1.17],"nice":false},"axis":{"tickCount":10,"title":null,"encode":{"ticks":{"update":{"x2":{"signal":"abs(log(datum.value)/LN10-round(log(datum.value)/LN10))<0.01?-4:-2"},"strokeWidth":{"signal":"abs(log(datum.value)/LN10-round(log(datum.value)/LN10))<0.01?0.8:0.6"}}}}}},"stroke":{"field":"s","type":"nominal","sort":"descending","legend":null}},"layer":[{"mark":"line","encoding":{"strokeDash":{"field":"s","type":"nominal","sort":"descending","scale":{"range":[[1,0],[5.5,2.4],[1,0],[1,0]]},"legend":null}}},{"mark":"point","encoding":{"fill":{"field":"s","type":"nominal","sort":"descending","legend":null},"shape":{"field":"s","type":"nominal","sort":"descending","legend":null}}}]},
{"title":"w8a","data":{"name":"w8a"},"encoding":{"x":{"field":"x","type":"quantitative","scale":{"domain":[-0.95,19.95],"nice":false,"zero":false},"axis":{"values":[0,5,10,15],"title":null}},"y":{"field":"y","type":"quantitative","scale":{"type":"log","domain":[0.00504,1.29],"nice":false},"axis":{"tickCount":10,"title":null,"encode":{"ticks":{"update":{"x2":{"signal":"abs(log(datum.value)/LN10-round(log(datum.value)/LN10))<0.01?-4:-2"},"strokeWidth":{"signal":"abs(log(datum.value)/LN10-round(log(datum.value)/LN10))<0.01?0.8:0.6"}}}}}},"stroke":{"field":"s","type":"nominal","sort":"descending","legend":null}},"layer":[{"mark":"line","encoding":{"strokeDash":{"field":"s","type":"nominal","sort":"descending","scale":{"range":[[1,0],[5.5,2.4],[1,0],[1,0]]},"legend":null}}},{"mark":"point","encoding":{"fill":{"field":"s","type":"nominal","sort":"descending","legend":null},"shape":{"field":"s","type":"nominal","sort":"descending","legend":null}}}]},
{"title":"YearPredictionMSD","data":{"name":"year"},"encoding":{"x":{"field":"x","type":"quantitative","scale":{"domain":[-0.95,19.95],"nice":false,"zero":false},"axis":{"values":[0,5,10,15],"title":"Communications","titlePadding":3}},"y":{"field":"y","type":"quantitative","scale":{"type":"log","domain":[0.00025,1.46],"nice":false},"axis":{"tickCount":10,"title":"sinθ(Zₜ, Uₛ)","titleFontStyle":"italic","titlePadding":4,"encode":{"ticks":{"update":{"x2":{"signal":"abs(log(datum.value)/LN10-round(log(datum.value)/LN10))<0.01?-4:-2"},"strokeWidth":{"signal":"abs(log(datum.value)/LN10-round(log(datum.value)/LN10))<0.01?0.8:0.6"}}}}}}},"layer":[{"mark":"line","encoding":{"stroke":{"field":"s","type":"nominal","sort":"descending","legend":null},"strokeDash":{"field":"s","type":"nominal","sort":"descending","scale":{"range":[[1,0],[5.5,2.4],[1,0],[1,0]]},"legend":null}}},{"mark":"point","encoding":{"stroke":{"field":"s","type":"nominal","sort":"descending","legend":{"title":null,"orient":"top-right","offset":4,"labelExpr":"'m=' + datum.label","strokeColor":"#cccccc","fillColor":"white","padding":7,"cornerRadius":3,"labelFontSize":12,"labelColor":"black","symbolSize":64,"rowPadding":5,"symbolStrokeWidth":1,"labelOffset":8}},"fill":{"field":"s","type":"nominal","sort":"descending","legend":{"title":null,"orient":"top-right","offset":4,"labelExpr":"'m=' + datum.label","strokeColor":"#cccccc","fillColor":"white","padding":7,"cornerRadius":3,"labelFontSize":12,"labelColor":"black","symbolSize":64,"rowPadding":5,"symbolStrokeWidth":1,"labelOffset":8}},"shape":{"field":"s","type":"nominal","sort":"descending","legend":{"title":null,"orient":"top-right","offset":4,"labelExpr":"'m=' + datum.label","strokeColor":"#cccccc","fillColor":"white","padding":7,"cornerRadius":3,"labelFontSize":12,"labelColor":"black","symbolSize":64,"rowPadding":5,"symbolStrokeWidth":1,"labelOffset":8}}}}]}
]
}
